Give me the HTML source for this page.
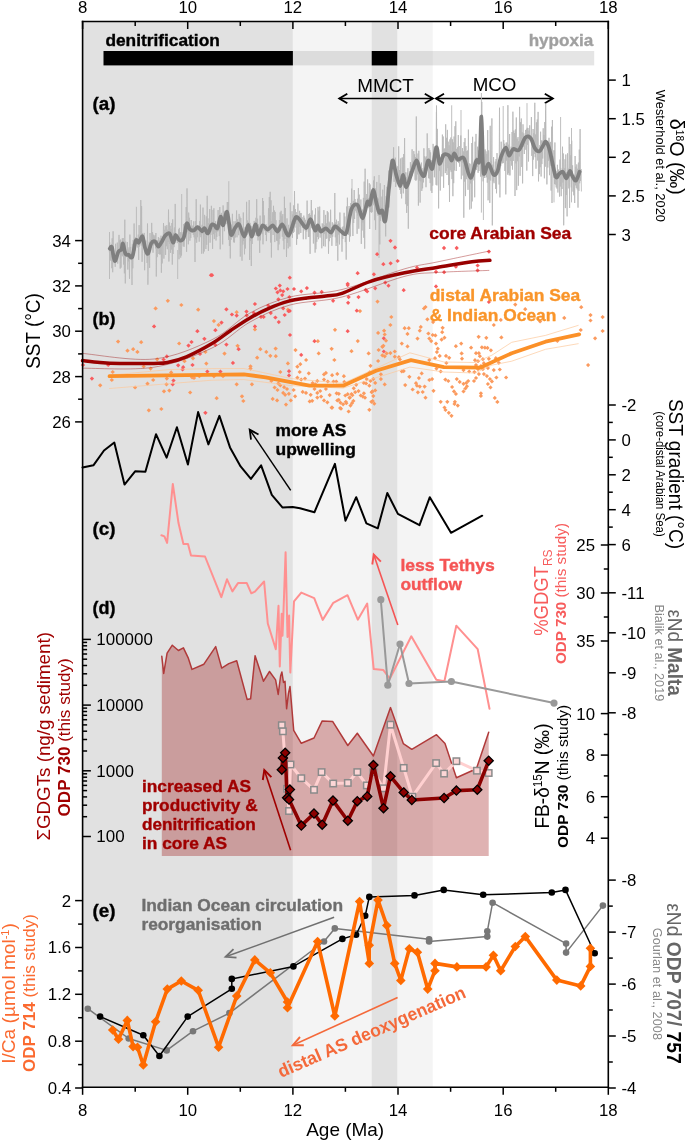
<!DOCTYPE html>
<html><head><meta charset="utf-8"><style>
html,body{margin:0;padding:0;background:#fff;}
svg{display:block;font-family:"Liberation Sans", sans-serif;will-change:transform;}
</style></head><body>
<svg width="685" height="1141" viewBox="0 0 685 1141">
<rect x="0" y="0" width="685" height="1141" fill="#fff"/>
<rect x="82.6" y="21.5" width="210.28" height="1065.8" fill="#e1e1e1"/>
<rect x="292.88" y="21.5" width="139.83619999999996" height="1065.8" fill="#f4f4f4"/>
<rect x="371.7349999999999" y="21.5" width="25.496450000000095" height="1065.8" fill="#e1e1e1"/>
<rect x="292.88" y="51" width="301.32000000000005" height="14.4" fill="#888" fill-opacity="0.22"/>
<rect x="103.5" y="51" width="189.38" height="14.4" fill="#000"/>
<rect x="371.7349999999999" y="51" width="25.496450000000095" height="14.4" fill="#000"/>
<text x="105.4" y="45.9" font-size="16" fill="#000" font-weight="bold" text-anchor="start" textLength="114.4" lengthAdjust="spacingAndGlyphs" stroke="#000" stroke-width="0.35" >denitrification</text>
<text x="528.7" y="46.0" font-size="16" fill="#a0a0a0" font-weight="bold" text-anchor="start" textLength="64.5" lengthAdjust="spacingAndGlyphs" stroke="#a0a0a0" stroke-width="0.35" >hypoxia</text>
<text x="357.2" y="91.5" font-size="19" fill="#000" font-weight="normal" text-anchor="start" textLength="56.7" lengthAdjust="spacingAndGlyphs" >MMCT</text>
<text x="472.7" y="90.8" font-size="19" fill="#000" font-weight="normal" text-anchor="start" textLength="43.7" lengthAdjust="spacingAndGlyphs" >MCO</text>
<line x1="339.3" y1="98.5" x2="432.8" y2="98.5" stroke="#000" stroke-width="1.7"/>
<polyline points="347.3,93.7 339.3,98.5 347.3,103.3" fill="none" stroke="#000" stroke-width="1.9"/>
<polyline points="424.8,93.7 432.8,98.5 424.8,103.3" fill="none" stroke="#000" stroke-width="1.9"/>
<line x1="436.0" y1="98.5" x2="552.8" y2="98.5" stroke="#000" stroke-width="1.7"/>
<polyline points="444.0,93.7 436.0,98.5 444.0,103.3" fill="none" stroke="#000" stroke-width="1.9"/>
<polyline points="544.8,93.7 552.8,98.5 544.8,103.3" fill="none" stroke="#000" stroke-width="1.9"/>
<polyline points="109.3,251.9 109.7,242.3 110.1,260.1 110.6,245.5 111.0,260.9 111.4,244.5 111.8,268.2 112.2,238.3 112.7,272.2 113.1,231.3 113.5,258.9 113.9,256.6 114.3,263.1 114.8,255.9 115.2,266.8 115.6,243.8 116.0,262.0 116.4,255.3 116.9,261.2 117.3,242.6 117.7,263.6 118.1,249.3 118.5,252.2 119.0,234.9 119.4,252.3 119.8,240.4 120.2,268.6 120.6,239.6 121.1,267.6 121.5,244.8 121.9,255.4 122.3,238.3 122.7,256.3 123.2,238.0 123.6,264.5 124.0,244.9 124.4,273.3 124.8,219.7 125.3,283.4 125.7,241.6 126.1,257.2 126.5,251.2 126.9,254.5 127.4,242.0 127.8,269.5 128.2,249.7 128.6,261.4 129.0,247.4 129.5,278.8 129.9,234.6 130.3,256.8 130.7,246.9 131.1,256.3 131.6,255.4 132.0,285.0 132.4,243.9 132.8,268.3 133.2,239.9 133.7,255.3 134.1,223.5 134.5,251.3 134.9,241.2 135.3,250.5 135.8,237.2 136.2,241.0 136.6,241.0 137.0,243.2 137.4,239.5 137.9,247.6 138.3,234.6 138.7,259.9 139.1,225.1 139.5,246.6 140.0,240.1 140.4,242.1 140.8,200.1 141.2,245.5 141.6,206.1 142.1,261.8 142.5,233.1 142.9,243.3 143.3,234.5 143.7,244.0 144.2,232.9 144.6,270.2 145.0,245.4 145.4,249.1 145.8,240.5 146.3,253.2 146.7,250.6 147.1,263.0 147.5,223.5 147.9,284.7 148.4,250.3 148.8,252.4 149.2,241.7 149.6,267.9 150.0,233.0 150.5,247.3 150.9,239.3 151.3,247.7 151.7,222.9 152.1,245.8 152.6,232.0 153.0,252.7 153.4,234.7 153.8,245.3 154.2,236.3 154.7,244.2 155.1,235.0 155.5,248.4 155.9,233.0 156.3,276.5 156.8,241.2 157.2,257.1 157.6,240.2 158.0,248.6 158.4,237.1 158.9,254.0 159.3,240.2 159.7,254.5 160.1,237.9 160.5,254.3 161.0,235.7 161.4,272.7 161.8,238.7 162.2,263.4 162.6,239.7 163.1,242.0 163.5,223.0 163.9,258.6 164.3,229.8 164.7,236.7 165.2,225.8 165.6,254.9 166.0,227.1 166.4,246.2 166.8,225.1 167.3,249.2 167.7,229.7 168.1,242.1 168.5,209.6 168.9,261.5 169.4,222.5 169.8,243.8 170.2,225.8 170.6,252.9 171.0,229.0 171.5,249.5 171.9,223.0 172.3,264.6 172.7,219.4 173.1,254.0 173.6,232.8 174.0,247.1 174.4,227.5 174.8,241.1 175.2,203.9 175.7,237.3 176.1,234.8 176.5,240.8 176.9,236.4 177.3,243.1 177.8,236.9 178.2,240.3 178.6,229.3 179.0,259.2 179.4,227.9 179.9,254.6 180.3,232.2 180.7,257.6 181.1,232.7 181.5,255.5 182.0,232.1 182.4,241.3 182.8,234.5 183.2,246.3 183.6,224.1 184.1,246.8 184.5,223.3 184.9,234.6 185.3,227.2 185.7,235.9 186.2,207.0 186.6,251.8 187.0,188.4 187.4,232.2 187.8,222.8 188.3,244.3 188.7,212.6 189.1,234.1 189.5,217.8 189.9,240.7 190.4,228.2 190.8,237.9 191.2,220.0 191.6,233.0 192.0,226.3 192.5,232.6 192.9,225.5 193.3,235.0 193.7,221.3 194.1,237.3 194.6,228.0 195.0,262.0 195.4,221.2 195.8,239.3 196.2,199.2 196.7,242.7 197.1,225.4 197.5,237.2 197.9,227.1 198.3,230.4 198.8,227.5 199.2,241.7 199.6,221.1 200.0,234.8 200.4,204.6 200.9,237.2 201.3,229.8 201.7,253.7 202.1,224.8 202.5,233.2 203.0,207.6 203.4,253.5 203.8,228.6 204.2,251.5 204.6,214.9 205.1,229.3 205.5,226.5 205.9,249.0 206.3,216.4 206.7,244.8 207.2,195.8 207.6,233.1 208.0,218.4 208.4,250.9 208.8,223.0 209.3,232.2 209.7,209.1 210.1,242.7 210.5,225.0 210.9,234.9 211.4,205.8 211.8,231.4 212.2,221.9 212.6,248.8 213.0,209.9 213.5,234.2 213.9,208.3 214.3,239.1 214.7,224.1 215.1,232.5 215.6,221.2 216.0,240.5 216.4,225.6 216.8,236.9 217.2,224.9 217.7,231.6 218.1,210.0 218.5,230.8 218.9,220.9 219.3,236.1 219.8,207.0 220.2,249.3 220.6,216.4 221.0,220.2 221.4,212.9 221.9,221.2 222.3,221.5 222.7,244.4 223.1,205.4 223.5,227.0 224.0,210.9 224.4,231.2 224.8,213.5 225.2,223.8 225.6,215.1 226.1,224.1 226.5,210.3 226.9,217.0 227.3,202.0 227.7,222.5 228.2,202.0 228.6,239.9 229.0,217.4 229.4,245.9 229.8,222.2 230.3,258.4 230.7,225.0 231.1,239.8 231.5,224.6 231.9,233.8 232.4,213.8 232.8,237.4 233.2,226.1 233.6,242.3 234.0,221.3 234.5,242.5 234.9,227.9 235.3,237.5 235.7,221.3 236.1,227.9 236.6,210.5 237.0,237.3 237.4,219.2 237.8,227.9 238.2,221.4 238.7,235.2 239.1,213.9 239.5,227.5 239.9,216.6 240.3,256.6 240.8,218.0 241.2,232.5 241.6,229.9 242.0,260.7 242.4,229.6 242.9,244.6 243.3,212.5 243.7,241.0 244.1,231.8 244.5,254.3 245.0,227.3 245.4,248.5 245.8,227.9 246.2,234.0 246.6,201.8 247.1,235.1 247.5,220.5 247.9,229.8 248.3,222.0 248.7,233.2 249.2,200.1 249.6,259.9 250.0,222.9 250.4,241.1 250.8,232.0 251.3,266.0 251.7,225.9 252.1,244.0 252.5,229.5 252.9,233.2 253.4,228.1 253.8,233.3 254.2,220.9 254.6,235.5 255.0,225.4 255.5,228.5 255.9,217.8 256.3,235.9 256.7,199.2 257.1,232.3 257.6,218.7 258.0,240.5 258.4,224.3 258.8,236.4 259.2,229.8 259.7,252.8 260.1,215.6 260.5,240.3 260.9,224.5 261.3,228.3 261.8,224.1 262.2,234.2 262.6,198.0 263.0,244.3 263.4,201.0 263.9,229.5 264.3,215.4 264.7,230.7 265.1,225.8 265.5,234.9 266.0,224.1 266.4,241.1 266.8,226.3 267.2,232.3 267.6,228.6 268.1,230.1 268.5,208.2 268.9,232.9 269.3,197.1 269.7,230.1 270.2,191.8 270.6,242.5 271.0,200.3 271.4,257.5 271.8,221.3 272.3,225.9 272.7,212.2 273.1,235.0 273.5,205.8 273.9,229.3 274.4,210.5 274.8,242.1 275.2,211.9 275.6,229.2 276.0,220.2 276.5,240.6 276.9,227.1 277.3,241.0 277.7,230.4 278.1,250.2 278.6,229.8 279.0,244.4 279.4,220.1 279.8,238.7 280.2,212.4 280.7,231.3 281.1,210.8 281.5,228.7 281.9,216.1 282.3,236.8 282.8,214.1 283.2,240.7 283.6,225.9 284.0,249.3 284.4,196.7 284.9,239.0 285.3,208.0 285.7,232.2 286.1,225.2 286.5,257.0 287.0,218.4 287.4,242.8 287.8,231.3 288.2,248.3 288.6,224.8 289.1,238.8 289.5,227.9 289.9,246.6 290.3,202.6 290.7,233.2 291.2,221.4 291.6,231.9 292.0,211.2 292.4,237.8 292.8,214.5 293.3,233.0 293.7,205.4 294.1,231.8 294.5,191.1 294.9,227.7 295.4,209.1 295.8,224.2 296.2,212.1 296.6,244.8 297.0,216.5 297.5,238.9 297.9,203.6 298.3,234.2 298.7,217.5 299.1,234.3 299.6,210.8 300.0,226.8 300.4,213.1 300.8,233.0 301.2,213.1 301.7,224.9 302.1,217.2 302.5,228.0 302.9,223.9 303.3,239.3 303.8,215.6 304.2,228.0 304.6,217.8 305.0,230.4 305.4,219.8 305.9,239.2 306.3,225.8 306.7,231.5 307.1,200.6 307.5,226.2 308.0,221.6 308.4,237.0 308.8,214.0 309.2,236.8 309.6,213.4 310.1,253.8 310.5,215.2 310.9,222.0 311.3,200.0 311.7,228.2 312.2,210.4 312.6,229.2 313.0,223.0 313.4,243.5 313.8,222.9 314.3,231.0 314.7,214.7 315.1,252.6 315.5,208.4 315.9,249.2 316.4,227.6 316.8,241.8 317.2,224.9 317.6,236.9 318.0,206.9 318.5,239.2 318.9,210.7 319.3,232.0 319.7,206.6 320.1,237.6 320.6,226.9 321.0,232.8 321.4,228.0 321.8,248.3 322.2,223.3 322.7,231.7 323.1,224.1 323.5,246.1 323.9,210.1 324.3,233.8 324.8,225.2 325.2,246.5 325.6,214.9 326.0,239.0 326.4,223.4 326.9,238.4 327.3,211.1 327.7,230.3 328.1,212.4 328.5,253.7 329.0,221.6 329.4,241.2 329.8,222.7 330.2,238.0 330.6,209.7 331.1,236.2 331.5,227.3 331.9,245.8 332.3,222.3 332.7,236.7 333.2,228.4 333.6,232.1 334.0,223.6 334.4,230.0 334.8,193.0 335.3,237.3 335.7,222.4 336.1,246.0 336.5,219.7 336.9,242.7 337.4,224.1 337.8,260.7 338.2,221.2 338.6,234.5 339.0,223.1 339.5,244.4 339.9,212.5 340.3,231.9 340.7,227.3 341.1,231.7 341.6,230.2 342.0,251.7 342.4,227.3 342.8,239.0 343.2,226.3 343.7,232.1 344.1,212.8 344.5,233.8 344.9,216.5 345.3,242.1 345.8,231.0 346.2,259.6 346.6,206.5 347.0,230.9 347.4,197.7 347.9,234.0 348.3,216.3 348.7,235.0 349.1,206.0 349.5,241.6 350.0,211.6 350.4,236.4 350.8,203.0 351.2,215.3 351.6,188.6 352.1,210.8 352.5,205.6 352.9,236.0 353.3,200.9 353.7,223.0 354.2,190.0 354.6,219.0 355.0,199.0 355.4,210.7 355.8,202.7 356.3,212.6 356.7,203.2 357.1,233.8 357.5,198.8 357.9,215.5 358.4,188.1 358.8,228.7 359.2,194.6 359.6,213.0 360.0,209.9 360.5,215.5 360.9,199.5 361.3,243.9 361.7,215.0 362.1,230.5 362.6,209.5 363.0,222.5 363.4,197.9 363.8,237.7 364.2,181.6 364.7,248.7 365.1,168.7 365.5,211.3 365.9,197.9 366.3,211.3 366.8,194.0 367.2,207.8 367.6,179.4 368.0,206.5 368.4,198.2 368.9,208.2 369.3,183.2 369.7,229.0 370.1,184.5 370.5,212.0 371.0,198.4 371.4,212.7 371.8,196.0 372.2,212.1 372.6,187.7 373.1,198.7 373.5,180.5 373.9,205.3 374.3,176.3 374.7,220.2 375.2,188.2 375.6,229.8 376.0,193.6 376.4,210.0 376.8,181.9 377.3,211.9 377.7,197.7 378.1,215.7 378.5,198.8 378.9,212.6 379.4,205.6 379.8,244.4 380.2,183.3 380.6,220.8 381.0,207.5 381.5,215.2 381.9,196.6 382.3,216.5 382.7,189.7 383.1,221.5 383.6,213.0 384.0,218.2 384.4,185.0 384.8,219.3 385.2,204.9 385.7,236.4 386.1,196.1 386.5,219.2 386.9,186.8 387.3,207.2 387.8,193.8 388.2,199.8 388.6,170.6 389.0,207.5 389.4,177.9 389.9,189.1 390.3,173.3 390.7,187.5 391.1,159.8 391.5,176.3 392.0,162.2 392.4,168.3 392.8,160.8 393.2,166.9 393.6,147.3 394.1,181.8 394.5,166.1 394.9,175.8 395.3,157.7 395.7,187.0 396.2,173.3 396.6,177.9 397.0,175.6 397.4,182.7 397.8,166.2 398.3,182.5 398.7,146.3 399.1,187.7 399.5,170.0 399.9,189.9 400.4,158.5 400.8,193.8 401.2,178.1 401.6,198.4 402.0,157.7 402.5,182.5 402.9,157.5 403.3,193.4 403.7,154.0 404.1,179.0 404.6,138.1 405.0,184.0 405.4,172.3 405.8,204.2 406.2,177.2 406.7,212.9 407.1,172.4 407.5,205.8 407.9,168.2 408.3,228.7 408.8,178.6 409.2,179.3 409.6,171.2 410.0,179.2 410.4,162.1 410.9,177.0 411.3,164.7 411.7,176.6 412.1,149.3 412.5,175.4 413.0,160.7 413.4,169.0 413.8,151.1 414.2,167.2 414.6,154.3 415.1,179.9 415.5,157.1 415.9,180.8 416.3,116.5 416.7,179.8 417.2,158.3 417.6,174.4 418.0,153.5 418.4,205.6 418.8,150.8 419.3,180.5 419.7,163.9 420.1,202.6 420.5,168.1 420.9,181.4 421.4,162.6 421.8,190.9 422.2,170.4 422.6,188.3 423.0,168.1 423.5,182.4 423.9,148.3 424.3,177.8 424.7,156.2 425.1,175.7 425.6,157.6 426.0,187.2 426.4,156.4 426.8,171.1 427.2,133.4 427.7,163.1 428.1,159.4 428.5,178.1 428.9,148.1 429.3,178.6 429.8,150.2 430.2,183.1 430.6,152.4 431.0,190.7 431.4,160.3 431.9,193.0 432.3,162.7 432.7,185.6 433.1,143.9 433.5,162.8 434.0,147.3 434.4,177.3 434.8,146.5 435.2,158.0 435.6,149.1 436.1,184.9 436.5,105.5 436.9,185.4 437.3,128.9 437.7,161.4 438.2,152.1 438.6,208.4 439.0,158.4 439.4,170.7 439.8,161.3 440.3,190.5 440.7,157.9 441.1,162.5 441.5,154.0 441.9,176.4 442.4,134.6 442.8,161.8 443.2,136.5 443.6,187.8 444.0,148.7 444.5,158.1 444.9,148.4 445.3,173.1 445.7,124.3 446.1,171.1 446.6,137.8 447.0,175.0 447.4,129.9 447.8,168.2 448.2,141.7 448.7,185.1 449.1,145.3 449.5,201.9 449.9,139.4 450.3,170.3 450.8,137.5 451.2,172.1 451.6,151.2 452.0,179.1 452.4,139.3 452.9,196.2 453.3,142.3 453.7,183.2 454.1,136.5 454.5,170.4 455.0,126.2 455.4,160.6 455.8,121.3 456.2,171.0 456.6,148.9 457.1,161.6 457.5,147.3 457.9,162.0 458.3,135.0 458.7,163.1 459.2,146.0 459.6,166.7 460.0,157.2 460.4,161.6 460.8,135.5 461.3,179.2 461.7,156.1 462.1,162.8 462.5,148.1 462.9,175.5 463.4,151.4 463.8,217.7 464.2,142.1 464.6,181.6 465.0,138.1 465.5,196.1 465.9,146.1 466.3,179.2 466.7,151.1 467.1,171.3 467.6,150.5 468.0,189.8 468.4,129.6 468.8,176.3 469.2,163.3 469.7,209.5 470.1,163.8 470.5,183.4 470.9,173.1 471.3,208.6 471.8,143.0 472.2,201.4 472.6,136.8 473.0,180.4 473.4,165.7 473.9,168.7 474.3,161.6 474.7,197.3 475.1,141.7 475.5,169.2 476.0,133.9 476.4,169.9 476.8,157.0 477.2,167.1 477.6,146.7 478.1,172.8 478.5,150.4 478.9,171.0 479.3,158.8 479.7,157.9 480.2,143.9 480.6,176.6 481.0,117.0 481.4,142.5 481.8,101.9 482.3,176.5 482.7,131.6 483.1,181.3 483.5,163.4 483.9,177.8 484.4,166.3 484.8,178.0 485.2,149.5 485.6,172.7 486.0,151.3 486.5,177.3 486.9,153.9 487.3,182.7 487.7,130.1 488.1,200.3 488.6,150.4 489.0,179.3 489.4,163.5 489.8,202.9 490.2,125.8 490.7,180.5 491.1,160.7 491.5,172.4 491.9,118.4 492.3,225.4 492.8,164.6 493.2,181.4 493.6,157.1 494.0,183.2 494.4,169.7 494.9,176.4 495.3,161.6 495.7,189.0 496.1,159.0 496.5,193.3 497.0,153.1 497.4,173.0 497.8,163.9 498.2,169.5 498.6,160.7 499.1,184.5 499.5,107.7 499.9,197.4 500.3,154.1 500.7,166.1 501.2,141.7 501.6,157.3 502.0,154.1 502.4,163.3 502.8,152.5 503.3,163.1 503.7,140.0 504.1,151.1 504.5,143.8 504.9,171.0 505.4,147.8 505.8,194.4 506.2,142.6 506.6,160.6 507.0,142.5 507.5,174.6 507.9,105.2 508.3,173.2 508.7,144.7 509.1,175.2 509.6,134.0 510.0,175.4 510.4,152.7 510.8,161.0 511.2,146.7 511.7,165.6 512.1,132.0 512.5,169.6 512.9,111.7 513.3,160.9 513.8,130.6 514.2,152.0 514.6,133.2 515.0,196.0 515.4,129.4 515.9,163.4 516.3,117.5 516.7,190.1 517.1,138.7 517.5,161.2 518.0,137.1 518.4,185.7 518.8,141.2 519.2,156.5 519.6,106.9 520.1,175.8 520.5,122.2 520.9,148.9 521.3,118.5 521.7,166.9 522.2,132.3 522.6,183.4 523.0,124.3 523.4,146.9 523.8,133.3 524.3,154.0 524.7,137.7 525.1,143.7 525.5,130.0 525.9,149.8 526.4,129.3 526.8,170.6 527.2,127.8 527.6,144.8 528.0,128.0 528.5,161.5 528.9,130.6 529.3,138.6 529.7,125.3 530.1,140.5 530.6,136.8 531.0,140.5 531.4,117.0 531.8,155.9 532.2,140.7 532.7,176.1 533.1,129.0 533.5,159.6 533.9,133.3 534.3,153.9 534.8,102.8 535.2,157.2 535.6,134.5 536.0,168.7 536.4,122.3 536.9,150.9 537.3,119.5 537.7,160.5 538.1,111.9 538.5,181.4 539.0,150.2 539.4,174.1 539.8,145.2 540.2,167.2 540.6,131.7 541.1,176.5 541.5,140.5 541.9,164.1 542.3,140.7 542.7,158.5 543.2,128.3 543.6,148.2 544.0,134.9 544.4,178.3 544.8,122.0 545.3,166.7 545.7,103.5 546.1,144.3 546.5,141.6 546.9,184.4 547.4,144.2 547.8,167.5 548.2,146.5 548.6,160.7 549.0,137.8 549.5,175.2 549.9,142.4 550.3,165.8 550.7,141.9 551.1,190.6 551.6,126.7 552.0,203.0 552.4,120.0 552.8,168.6 553.2,156.0 553.7,177.9 554.1,150.6 554.5,184.0 554.9,142.5 555.3,184.6 555.8,170.9 556.2,187.3 556.6,175.1 557.0,188.6 557.4,164.8 557.9,192.5 558.3,169.5 558.7,174.7 559.1,172.4 559.5,196.6 560.0,159.6 560.4,186.5 560.8,168.3 561.2,196.2 561.6,172.0 562.1,189.0 562.5,146.7 562.9,182.5 563.3,153.5 563.7,225.3 564.2,168.2 564.6,178.6 565.0,159.3 565.4,208.1 565.8,154.5 566.3,194.9 566.7,172.2 567.1,216.4 567.5,153.3 567.9,175.0 568.4,168.7 568.8,188.4 569.2,136.9 569.6,207.9 570.0,144.1 570.5,173.1 570.9,155.3 571.3,187.4 571.7,140.7 572.1,176.2 572.6,165.3 573.0,191.6 573.4,174.8 573.8,195.3 574.2,174.7 574.7,203.0 575.1,156.0 575.5,185.3 575.9,166.7 576.3,187.9 576.8,164.4 577.2,189.4 577.6,168.7 578.0,207.6 578.4,162.6 578.9,190.9 579.3,149.6 579.7,183.3 580.1,129.1 580.5,180.9 581.0,169.0 581.4,191.1" fill="none" stroke="#b8b8b8" stroke-width="0.85" stroke-linejoin="round" stroke-linecap="round" stroke-linejoin="miter" stroke-miterlimit="2"/>
<line x1="109.5" y1="232" x2="109.5" y2="279" stroke="#b8b8b8" stroke-width="0.9"/>
<line x1="177.7" y1="250" x2="177.7" y2="279" stroke="#b8b8b8" stroke-width="0.9"/>
<line x1="181.7" y1="194" x2="181.7" y2="235" stroke="#b8b8b8" stroke-width="0.9"/>
<line x1="228.8" y1="181.2" x2="228.8" y2="215" stroke="#b8b8b8" stroke-width="0.9"/>
<line x1="136.4" y1="206.8" x2="136.4" y2="240" stroke="#b8b8b8" stroke-width="0.9"/>
<line x1="451.7" y1="105.3" x2="451.7" y2="160" stroke="#b8b8b8" stroke-width="0.9"/>
<line x1="461" y1="110" x2="461" y2="158" stroke="#b8b8b8" stroke-width="0.9"/>
<line x1="481.4" y1="93" x2="481.4" y2="212.6" stroke="#b8b8b8" stroke-width="0.9"/>
<line x1="483.4" y1="170" x2="483.4" y2="220" stroke="#b8b8b8" stroke-width="0.9"/>
<line x1="503.2" y1="106" x2="503.2" y2="150" stroke="#b8b8b8" stroke-width="0.9"/>
<line x1="527" y1="103.1" x2="527" y2="140" stroke="#b8b8b8" stroke-width="0.9"/>
<line x1="545.5" y1="110.4" x2="545.5" y2="145" stroke="#b8b8b8" stroke-width="0.9"/>
<line x1="560.6" y1="117" x2="560.6" y2="175" stroke="#b8b8b8" stroke-width="0.9"/>
<line x1="571.5" y1="128" x2="571.5" y2="175" stroke="#b8b8b8" stroke-width="0.9"/>
<line x1="554" y1="150" x2="554" y2="202.4" stroke="#b8b8b8" stroke-width="0.9"/>
<line x1="571.5" y1="175" x2="571.5" y2="202.4" stroke="#b8b8b8" stroke-width="0.9"/>
<line x1="436.4" y1="112" x2="436.4" y2="150" stroke="#b8b8b8" stroke-width="0.9"/>
<line x1="352" y1="179" x2="352" y2="210" stroke="#b8b8b8" stroke-width="0.9"/>
<line x1="379" y1="175" x2="379" y2="258" stroke="#b8b8b8" stroke-width="0.9"/>
<path d="M109.8,248.7C110.2,248.5 111.1,245.2 111.9,247.3C112.7,249.4 113.6,260.3 114.7,261.0C115.8,261.7 117.3,253.6 118.4,251.7C119.5,249.8 120.8,250.7 121.5,249.3C122.2,248.0 122.2,242.8 122.9,243.6C123.6,244.3 124.5,251.9 125.5,253.8C126.5,255.7 127.5,254.3 128.6,254.8C129.7,255.3 131.1,259.3 132.3,256.9C133.5,254.5 134.7,242.9 135.8,240.5C136.9,238.1 137.7,243.3 138.8,242.6C139.9,241.9 141.5,235.6 142.5,236.4C143.5,237.2 144.1,244.8 145.0,247.7C145.9,250.6 147.0,254.5 148.0,253.8C149.0,253.1 149.9,245.7 151.1,243.6C152.3,241.5 154.0,241.0 155.2,241.5C156.4,242.0 157.2,246.4 158.2,246.6C159.2,246.8 160.1,244.5 161.3,242.6C162.5,240.7 164.0,236.9 165.4,235.4C166.8,233.9 168.2,232.2 169.5,233.4C170.8,234.6 172.2,242.3 173.2,242.6C174.2,242.9 174.5,235.3 175.6,235.0C176.7,234.7 178.3,240.1 179.7,240.5C181.1,240.9 182.6,240.2 183.8,237.4C185.0,234.6 185.9,224.8 186.9,223.5C187.9,222.2 188.7,228.2 189.9,229.3C191.1,230.4 192.7,230.7 194.0,230.3C195.3,230.0 196.3,227.0 197.7,227.2C199.1,227.4 201.0,231.1 202.2,231.3C203.3,231.5 203.6,227.8 204.6,228.2C205.6,228.5 206.8,233.9 207.9,233.4C209.0,232.9 210.3,226.6 211.4,225.2C212.5,223.8 213.4,224.7 214.4,225.2C215.4,225.7 216.5,229.6 217.5,228.2C218.5,226.8 219.7,217.1 220.6,216.6C221.5,216.1 222.1,226.0 223.2,225.2C224.3,224.4 225.8,210.4 227.1,211.9C228.4,213.4 229.5,231.7 230.8,234.4C232.1,237.1 233.5,229.9 234.9,228.2C236.3,226.5 237.6,223.0 239.1,224.4C240.6,225.8 242.7,236.5 244.2,236.6C245.7,236.7 247.0,225.0 248.3,225.0C249.6,225.0 250.6,236.7 251.8,236.6C253.0,236.5 254.3,224.7 255.4,224.4C256.5,224.1 257.3,234.4 258.5,234.6C259.7,234.8 261.1,226.2 262.6,225.4C264.1,224.6 266.0,229.5 267.7,229.5C269.4,229.5 271.2,225.1 272.8,225.4C274.4,225.7 275.9,231.7 277.5,231.5C279.1,231.3 280.6,223.7 282.4,224.4C284.2,225.1 286.5,236.3 288.5,235.6C290.5,234.9 292.8,223.4 294.3,220.3C295.8,217.2 295.6,216.2 297.3,217.2C299.0,218.2 302.9,224.7 304.5,226.4C306.1,228.1 305.9,228.6 306.9,227.4C307.9,226.2 309.2,218.8 310.6,219.3C312.0,219.8 313.9,229.5 315.1,230.5C316.3,231.5 316.9,225.2 317.8,225.4C318.8,225.6 319.5,231.0 320.8,231.5C322.1,232.0 324.2,228.3 325.9,228.5C327.6,228.7 329.6,232.9 331.1,232.6C332.6,232.2 333.4,226.6 335.1,226.4C336.8,226.2 339.4,230.5 341.3,231.5C343.2,232.5 344.7,236.3 346.4,232.6C348.1,228.8 349.6,213.6 351.5,209.0C353.4,204.4 355.7,203.5 357.6,205.0C359.5,206.5 361.1,218.7 362.7,218.2C364.3,217.7 366.2,204.2 367.4,201.9C368.6,199.6 369.1,206.4 370.0,204.4C370.9,202.4 372.1,190.6 373.1,190.1C374.1,189.6 375.1,197.7 376.1,201.4C377.1,205.2 378.2,211.1 379.2,212.6C380.2,214.1 381.3,209.2 382.3,210.6C383.3,212.0 384.1,225.2 385.3,220.8C386.5,216.4 388.2,194.1 389.4,184.0C390.6,173.9 391.4,162.0 392.5,160.5C393.6,159.0 394.9,170.5 396.2,174.8C397.5,179.1 399.0,186.1 400.2,186.1C401.4,186.1 402.1,174.6 403.1,174.8C404.1,175.0 404.9,187.6 406.4,187.1C407.9,186.6 410.2,176.1 411.9,171.7C413.6,167.3 415.2,160.7 416.6,160.5C418.0,160.3 418.8,168.1 420.1,170.7C421.4,173.2 422.9,177.5 424.2,175.8C425.5,174.1 426.8,161.7 428.2,160.5C429.6,159.3 430.9,170.9 432.3,168.7C433.7,166.5 435.2,148.0 436.4,147.2C437.6,146.3 438.3,162.3 439.5,163.6C440.7,164.9 442.1,156.4 443.6,155.0C445.1,153.6 447.4,154.5 448.7,155.4C450.0,156.3 450.8,160.8 451.7,160.5C452.6,160.2 453.2,153.6 454.2,153.4C455.2,153.2 456.3,158.7 457.9,159.5C459.5,160.3 461.9,155.4 464.0,158.5C466.1,161.6 468.4,177.6 470.5,177.9C472.6,178.2 474.8,163.5 476.3,160.5C477.8,157.5 478.8,167.3 479.6,160.0C480.5,152.7 480.8,115.8 481.4,116.6C482.0,117.4 482.5,155.5 483.0,165.0C483.5,174.5 483.5,174.0 484.4,173.8C485.3,173.6 487.0,163.4 488.5,163.6C490.0,163.8 492.1,173.6 493.6,174.8C495.1,176.0 496.5,173.6 497.7,170.7C498.9,167.8 499.4,161.2 500.8,157.4C502.2,153.6 504.4,148.0 505.8,147.7C507.2,147.4 507.9,155.5 509.1,155.7C510.3,155.9 511.5,150.1 513.1,149.1C514.8,148.1 516.9,151.8 519.0,149.9C521.1,148.0 523.5,139.4 525.5,137.4C527.5,135.4 529.1,136.4 530.7,138.2C532.3,140.0 533.5,146.2 535.0,148.4C536.5,150.6 538.0,151.8 539.4,151.3C540.8,150.8 542.0,147.1 543.1,145.5C544.2,143.9 544.9,141.1 546.0,141.8C547.1,142.5 548.0,144.2 549.6,149.9C551.2,155.6 553.9,172.1 555.5,176.1C557.1,180.1 557.9,174.6 559.1,173.9C560.3,173.2 561.6,171.1 562.8,171.8C564.0,172.5 565.2,178.4 566.4,178.3C567.6,178.2 568.8,171.4 569.8,171.0C570.8,170.6 571.3,174.5 572.3,176.1C573.3,177.7 574.7,181.2 575.9,180.5C577.1,179.8 579.0,173.2 579.6,171.8" fill="none" stroke="#7f7f7f" stroke-width="3.8" stroke-linejoin="round" stroke-linecap="round" />
<path d="M167.8,298.7L170.0,300.8L167.8,302.9L165.7,300.8Z" fill="#fb9a5e" stroke="none" stroke-width="0"/>
<path d="M155.6,306.2L157.8,308.4L155.6,310.5L153.4,308.4Z" fill="#fb9a5e" stroke="none" stroke-width="0"/>
<path d="M181.3,302.9L183.5,305.0L181.3,307.1L179.2,305.0Z" fill="#fb9a5e" stroke="none" stroke-width="0"/>
<path d="M198.2,307.6L200.3,309.7L198.2,311.8L196.0,309.7Z" fill="#fb9a5e" stroke="none" stroke-width="0"/>
<path d="M118.1,339.5L120.2,341.6L118.1,343.8L115.9,341.6Z" fill="#fb9a5e" stroke="none" stroke-width="0"/>
<path d="M141.2,340.1L143.3,342.2L141.2,344.3L139.0,342.2Z" fill="#fb9a5e" stroke="none" stroke-width="0"/>
<path d="M179.2,341.4L181.3,343.5L179.2,345.6L177.0,343.5Z" fill="#fb9a5e" stroke="none" stroke-width="0"/>
<path d="M127.5,348.6L129.7,350.7L127.5,352.8L125.3,350.7Z" fill="#fb9a5e" stroke="none" stroke-width="0"/>
<path d="M133.2,347.1L135.3,349.2L133.2,351.3L131.0,349.2Z" fill="#fb9a5e" stroke="none" stroke-width="0"/>
<path d="M137.4,349.8L139.6,351.9L137.4,354.0L135.2,351.9Z" fill="#fb9a5e" stroke="none" stroke-width="0"/>
<path d="M157.2,357.2L159.3,359.3L157.2,361.4L155.0,359.3Z" fill="#fb9a5e" stroke="none" stroke-width="0"/>
<path d="M205.4,349.9L207.6,352.0L205.4,354.1L203.2,352.0Z" fill="#fb9a5e" stroke="none" stroke-width="0"/>
<path d="M193.0,356.2L195.2,358.3L193.0,360.4L190.8,358.3Z" fill="#fb9a5e" stroke="none" stroke-width="0"/>
<path d="M184.5,359.1L186.7,361.2L184.5,363.3L182.3,361.2Z" fill="#fb9a5e" stroke="none" stroke-width="0"/>
<path d="M206.3,361.5L208.5,363.6L206.3,365.8L204.2,363.6Z" fill="#fb9a5e" stroke="none" stroke-width="0"/>
<path d="M143.7,364.4L145.8,366.5L143.7,368.6L141.5,366.5Z" fill="#fb9a5e" stroke="none" stroke-width="0"/>
<path d="M150.7,366.5L152.8,368.6L150.7,370.8L148.5,368.6Z" fill="#fb9a5e" stroke="none" stroke-width="0"/>
<path d="M112.7,369.9L114.9,372.0L112.7,374.1L110.5,372.0Z" fill="#fb9a5e" stroke="none" stroke-width="0"/>
<path d="M171.2,370.2L173.3,372.4L171.2,374.5L169.0,372.4Z" fill="#fb9a5e" stroke="none" stroke-width="0"/>
<path d="M111.8,377.9L114.0,380.0L111.8,382.1L109.6,380.0Z" fill="#fb9a5e" stroke="none" stroke-width="0"/>
<path d="M153.2,377.9L155.3,380.0L153.2,382.1L151.0,380.0Z" fill="#fb9a5e" stroke="none" stroke-width="0"/>
<path d="M166.8,376.5L169.0,378.6L166.8,380.8L164.7,378.6Z" fill="#fb9a5e" stroke="none" stroke-width="0"/>
<path d="M166.5,382.2L168.7,384.3L166.5,386.4L164.3,384.3Z" fill="#fb9a5e" stroke="none" stroke-width="0"/>
<path d="M147.5,381.6L149.7,383.7L147.5,385.8L145.3,383.7Z" fill="#fb9a5e" stroke="none" stroke-width="0"/>
<path d="M192.1,375.2L194.2,377.3L192.1,379.4L189.9,377.3Z" fill="#fb9a5e" stroke="none" stroke-width="0"/>
<path d="M194.0,375.9L196.2,378.0L194.0,380.1L191.8,378.0Z" fill="#fb9a5e" stroke="none" stroke-width="0"/>
<path d="M199.3,374.1L201.5,376.2L199.3,378.3L197.2,376.2Z" fill="#fb9a5e" stroke="none" stroke-width="0"/>
<path d="M100.2,383.2L102.4,385.3L100.2,387.4L98.0,385.3Z" fill="#fb9a5e" stroke="none" stroke-width="0"/>
<path d="M135.1,385.4L137.2,387.5L135.1,389.6L132.9,387.5Z" fill="#fb9a5e" stroke="none" stroke-width="0"/>
<path d="M164.0,389.2L166.2,391.3L164.0,393.4L161.8,391.3Z" fill="#fb9a5e" stroke="none" stroke-width="0"/>
<path d="M169.3,388.5L171.5,390.6L169.3,392.8L167.2,390.6Z" fill="#fb9a5e" stroke="none" stroke-width="0"/>
<path d="M190.2,390.4L192.3,392.5L190.2,394.6L188.0,392.5Z" fill="#fb9a5e" stroke="none" stroke-width="0"/>
<path d="M148.8,408.2L151.0,410.3L148.8,412.4L146.7,410.3Z" fill="#fb9a5e" stroke="none" stroke-width="0"/>
<path d="M161.3,406.9L163.5,409.0L161.3,411.1L159.2,409.0Z" fill="#fb9a5e" stroke="none" stroke-width="0"/>
<path d="M213.9,319.0L216.1,321.1L213.9,323.2L211.8,321.1Z" fill="#fb9a5e" stroke="none" stroke-width="0"/>
<path d="M218.6,322.8L220.8,324.9L218.6,327.0L216.4,324.9Z" fill="#fb9a5e" stroke="none" stroke-width="0"/>
<path d="M236.7,310.1L238.8,312.2L236.7,314.3L234.5,312.2Z" fill="#fb9a5e" stroke="none" stroke-width="0"/>
<path d="M254.9,327.4L257.1,329.5L254.9,331.6L252.8,329.5Z" fill="#fb9a5e" stroke="none" stroke-width="0"/>
<path d="M287.9,307.6L290.0,309.7L287.9,311.8L285.8,309.7Z" fill="#fb9a5e" stroke="none" stroke-width="0"/>
<path d="M317.9,339.1L320.0,341.2L317.9,343.3L315.8,341.2Z" fill="#fb9a5e" stroke="none" stroke-width="0"/>
<path d="M335.0,327.7L337.1,329.8L335.0,331.9L332.9,329.8Z" fill="#fb9a5e" stroke="none" stroke-width="0"/>
<path d="M237.6,343.7L239.8,345.8L237.6,347.9L235.4,345.8Z" fill="#fb9a5e" stroke="none" stroke-width="0"/>
<path d="M224.5,351.5L226.7,353.6L224.5,355.8L222.3,353.6Z" fill="#fb9a5e" stroke="none" stroke-width="0"/>
<path d="M260.4,347.1L262.5,349.2L260.4,351.3L258.2,349.2Z" fill="#fb9a5e" stroke="none" stroke-width="0"/>
<path d="M275.6,346.5L277.8,348.6L275.6,350.8L273.5,348.6Z" fill="#fb9a5e" stroke="none" stroke-width="0"/>
<path d="M266.3,349.8L268.4,351.9L266.3,354.0L264.2,351.9Z" fill="#fb9a5e" stroke="none" stroke-width="0"/>
<path d="M270.3,353.7L272.4,355.8L270.3,357.9L268.2,355.8Z" fill="#fb9a5e" stroke="none" stroke-width="0"/>
<path d="M275.8,354.1L277.9,356.2L275.8,358.3L273.7,356.2Z" fill="#fb9a5e" stroke="none" stroke-width="0"/>
<path d="M257.2,355.6L259.3,357.7L257.2,359.8L255.0,357.7Z" fill="#fb9a5e" stroke="none" stroke-width="0"/>
<path d="M295.5,348.0L297.6,350.1L295.5,352.2L293.4,350.1Z" fill="#fb9a5e" stroke="none" stroke-width="0"/>
<path d="M318.7,351.2L320.8,353.4L318.7,355.5L316.6,353.4Z" fill="#fb9a5e" stroke="none" stroke-width="0"/>
<path d="M331.6,346.7L333.8,348.8L331.6,350.9L329.5,348.8Z" fill="#fb9a5e" stroke="none" stroke-width="0"/>
<path d="M334.4,357.9L336.5,360.0L334.4,362.1L332.2,360.0Z" fill="#fb9a5e" stroke="none" stroke-width="0"/>
<path d="M306.1,357.9L308.2,360.0L306.1,362.1L304.0,360.0Z" fill="#fb9a5e" stroke="none" stroke-width="0"/>
<path d="M287.9,361.2L290.0,363.4L287.9,365.5L285.8,363.4Z" fill="#fb9a5e" stroke="none" stroke-width="0"/>
<path d="M300.3,362.1L302.4,364.2L300.3,366.3L298.2,364.2Z" fill="#fb9a5e" stroke="none" stroke-width="0"/>
<path d="M297.4,364.6L299.5,366.7L297.4,368.8L295.2,366.7Z" fill="#fb9a5e" stroke="none" stroke-width="0"/>
<path d="M250.5,364.2L252.7,366.3L250.5,368.4L248.3,366.3Z" fill="#fb9a5e" stroke="none" stroke-width="0"/>
<path d="M250.5,366.5L252.7,368.6L250.5,370.8L248.3,368.6Z" fill="#fb9a5e" stroke="none" stroke-width="0"/>
<path d="M280.3,369.9L282.4,372.0L280.3,374.1L278.2,372.0Z" fill="#fb9a5e" stroke="none" stroke-width="0"/>
<path d="M299.7,369.9L301.8,372.0L299.7,374.1L297.6,372.0Z" fill="#fb9a5e" stroke="none" stroke-width="0"/>
<path d="M308.8,371.2L310.9,373.3L308.8,375.4L306.7,373.3Z" fill="#fb9a5e" stroke="none" stroke-width="0"/>
<path d="M324.0,372.2L326.1,374.4L324.0,376.5L321.9,374.4Z" fill="#fb9a5e" stroke="none" stroke-width="0"/>
<path d="M332.1,373.1L334.2,375.2L332.1,377.3L330.0,375.2Z" fill="#fb9a5e" stroke="none" stroke-width="0"/>
<path d="M213.9,374.2L216.1,376.3L213.9,378.4L211.8,376.3Z" fill="#fb9a5e" stroke="none" stroke-width="0"/>
<path d="M223.0,374.1L225.2,376.2L223.0,378.3L220.8,376.2Z" fill="#fb9a5e" stroke="none" stroke-width="0"/>
<path d="M297.4,375.6L299.5,377.7L297.4,379.8L295.2,377.7Z" fill="#fb9a5e" stroke="none" stroke-width="0"/>
<path d="M301.2,377.5L303.3,379.6L301.2,381.8L299.1,379.6Z" fill="#fb9a5e" stroke="none" stroke-width="0"/>
<path d="M305.0,376.5L307.1,378.6L305.0,380.8L302.9,378.6Z" fill="#fb9a5e" stroke="none" stroke-width="0"/>
<path d="M271.4,378.8L273.5,380.9L271.4,383.0L269.2,380.9Z" fill="#fb9a5e" stroke="none" stroke-width="0"/>
<path d="M236.7,382.2L238.8,384.3L236.7,386.4L234.5,384.3Z" fill="#fb9a5e" stroke="none" stroke-width="0"/>
<path d="M251.9,382.2L254.1,384.3L251.9,386.4L249.8,384.3Z" fill="#fb9a5e" stroke="none" stroke-width="0"/>
<path d="M278.4,381.2L280.5,383.4L278.4,385.5L276.2,383.4Z" fill="#fb9a5e" stroke="none" stroke-width="0"/>
<path d="M274.6,385.4L276.8,387.5L274.6,389.6L272.5,387.5Z" fill="#fb9a5e" stroke="none" stroke-width="0"/>
<path d="M277.5,387.9L279.6,390.0L277.5,392.1L275.4,390.0Z" fill="#fb9a5e" stroke="none" stroke-width="0"/>
<path d="M280.3,383.2L282.4,385.3L280.3,387.4L278.2,385.3Z" fill="#fb9a5e" stroke="none" stroke-width="0"/>
<path d="M284.1,385.1L286.2,387.2L284.1,389.3L282.0,387.2Z" fill="#fb9a5e" stroke="none" stroke-width="0"/>
<path d="M287.0,386.9L289.1,389.0L287.0,391.1L284.9,389.0Z" fill="#fb9a5e" stroke="none" stroke-width="0"/>
<path d="M283.2,390.8L285.3,392.9L283.2,395.0L281.1,392.9Z" fill="#fb9a5e" stroke="none" stroke-width="0"/>
<path d="M285.1,392.7L287.2,394.8L285.1,396.9L283.0,394.8Z" fill="#fb9a5e" stroke="none" stroke-width="0"/>
<path d="M288.9,391.7L291.0,393.8L288.9,395.9L286.8,393.8Z" fill="#fb9a5e" stroke="none" stroke-width="0"/>
<path d="M293.6,387.9L295.8,390.0L293.6,392.1L291.5,390.0Z" fill="#fb9a5e" stroke="none" stroke-width="0"/>
<path d="M295.1,394.2L297.2,396.3L295.1,398.4L293.0,396.3Z" fill="#fb9a5e" stroke="none" stroke-width="0"/>
<path d="M290.8,398.2L292.9,400.4L290.8,402.5L288.7,400.4Z" fill="#fb9a5e" stroke="none" stroke-width="0"/>
<path d="M286.0,402.5L288.1,404.6L286.0,406.8L283.9,404.6Z" fill="#fb9a5e" stroke="none" stroke-width="0"/>
<path d="M302.7,389.8L304.8,391.9L302.7,394.0L300.6,391.9Z" fill="#fb9a5e" stroke="none" stroke-width="0"/>
<path d="M306.0,390.8L308.1,392.9L306.0,395.0L303.9,392.9Z" fill="#fb9a5e" stroke="none" stroke-width="0"/>
<path d="M310.7,392.7L312.8,394.8L310.7,396.9L308.6,394.8Z" fill="#fb9a5e" stroke="none" stroke-width="0"/>
<path d="M314.5,386.9L316.6,389.0L314.5,391.1L312.4,389.0Z" fill="#fb9a5e" stroke="none" stroke-width="0"/>
<path d="M317.3,390.8L319.4,392.9L317.3,395.0L315.2,392.9Z" fill="#fb9a5e" stroke="none" stroke-width="0"/>
<path d="M320.2,388.9L322.3,391.0L320.2,393.1L318.1,391.0Z" fill="#fb9a5e" stroke="none" stroke-width="0"/>
<path d="M317.3,395.5L319.4,397.6L317.3,399.8L315.2,397.6Z" fill="#fb9a5e" stroke="none" stroke-width="0"/>
<path d="M321.1,394.5L323.2,396.6L321.1,398.8L319.0,396.6Z" fill="#fb9a5e" stroke="none" stroke-width="0"/>
<path d="M324.0,398.2L326.1,400.4L324.0,402.5L321.9,400.4Z" fill="#fb9a5e" stroke="none" stroke-width="0"/>
<path d="M325.9,386.9L328.0,389.0L325.9,391.1L323.8,389.0Z" fill="#fb9a5e" stroke="none" stroke-width="0"/>
<path d="M329.7,393.0L331.8,395.1L329.7,397.2L327.6,395.1Z" fill="#fb9a5e" stroke="none" stroke-width="0"/>
<path d="M327.4,400.2L329.5,402.3L327.4,404.4L325.2,402.3Z" fill="#fb9a5e" stroke="none" stroke-width="0"/>
<path d="M309.7,399.2L311.8,401.4L309.7,403.5L307.6,401.4Z" fill="#fb9a5e" stroke="none" stroke-width="0"/>
<path d="M312.2,398.7L314.3,400.8L312.2,402.9L310.1,400.8Z" fill="#fb9a5e" stroke="none" stroke-width="0"/>
<path d="M337.3,398.2L339.4,400.4L337.3,402.5L335.2,400.4Z" fill="#fb9a5e" stroke="none" stroke-width="0"/>
<path d="M338.8,391.7L340.9,393.8L338.8,395.9L336.7,393.8Z" fill="#fb9a5e" stroke="none" stroke-width="0"/>
<path d="M331.6,405.6L333.8,407.7L331.6,409.8L329.5,407.7Z" fill="#fb9a5e" stroke="none" stroke-width="0"/>
<path d="M340.1,405.9L342.2,408.0L340.1,410.1L338.0,408.0Z" fill="#fb9a5e" stroke="none" stroke-width="0"/>
<path d="M216.7,396.1L218.8,398.2L216.7,400.3L214.5,398.2Z" fill="#fb9a5e" stroke="none" stroke-width="0"/>
<path d="M242.0,394.2L244.2,396.3L242.0,398.4L239.8,396.3Z" fill="#fb9a5e" stroke="none" stroke-width="0"/>
<path d="M243.3,398.9L245.5,401.0L243.3,403.1L241.2,401.0Z" fill="#fb9a5e" stroke="none" stroke-width="0"/>
<path d="M272.7,396.8L274.8,398.9L272.7,401.0L270.6,398.9Z" fill="#fb9a5e" stroke="none" stroke-width="0"/>
<path d="M277.1,398.2L279.2,400.4L277.1,402.5L275.0,400.4Z" fill="#fb9a5e" stroke="none" stroke-width="0"/>
<path d="M312.6,380.9L314.8,383.0L312.6,385.1L310.5,383.0Z" fill="#fb9a5e" stroke="none" stroke-width="0"/>
<path d="M315.4,382.2L317.5,384.3L315.4,386.4L313.2,384.3Z" fill="#fb9a5e" stroke="none" stroke-width="0"/>
<path d="M317.3,378.8L319.4,380.9L317.3,383.0L315.2,380.9Z" fill="#fb9a5e" stroke="none" stroke-width="0"/>
<path d="M324.0,377.5L326.1,379.6L324.0,381.8L321.9,379.6Z" fill="#fb9a5e" stroke="none" stroke-width="0"/>
<path d="M327.8,379.4L329.9,381.5L327.8,383.6L325.7,381.5Z" fill="#fb9a5e" stroke="none" stroke-width="0"/>
<path d="M333.5,379.4L335.6,381.5L333.5,383.6L331.4,381.5Z" fill="#fb9a5e" stroke="none" stroke-width="0"/>
<path d="M336.3,379.4L338.4,381.5L336.3,383.6L334.2,381.5Z" fill="#fb9a5e" stroke="none" stroke-width="0"/>
<path d="M325.9,370.8L328.0,372.9L325.9,375.0L323.8,372.9Z" fill="#fb9a5e" stroke="none" stroke-width="0"/>
<path d="M337.3,371.8L339.4,373.9L337.3,376.0L335.2,373.9Z" fill="#fb9a5e" stroke="none" stroke-width="0"/>
<path d="M377.5,299.5L379.6,301.6L377.5,303.8L375.4,301.6Z" fill="#fb9a5e" stroke="none" stroke-width="0"/>
<path d="M360.0,309.0L362.1,311.1L360.0,313.2L357.9,311.1Z" fill="#fb9a5e" stroke="none" stroke-width="0"/>
<path d="M391.3,314.9L393.4,317.0L391.3,319.1L389.2,317.0Z" fill="#fb9a5e" stroke="none" stroke-width="0"/>
<path d="M390.4,322.9L392.5,325.0L390.4,327.1L388.2,325.0Z" fill="#fb9a5e" stroke="none" stroke-width="0"/>
<path d="M425.5,304.9L427.6,307.0L425.5,309.1L423.4,307.0Z" fill="#fb9a5e" stroke="none" stroke-width="0"/>
<path d="M424.0,306.4L426.1,308.5L424.0,310.6L421.9,308.5Z" fill="#fb9a5e" stroke="none" stroke-width="0"/>
<path d="M427.4,317.2L429.5,319.3L427.4,321.4L425.2,319.3Z" fill="#fb9a5e" stroke="none" stroke-width="0"/>
<path d="M433.1,320.0L435.2,322.1L433.1,324.2L431.0,322.1Z" fill="#fb9a5e" stroke="none" stroke-width="0"/>
<path d="M384.1,328.6L386.2,330.7L384.1,332.8L382.0,330.7Z" fill="#fb9a5e" stroke="none" stroke-width="0"/>
<path d="M384.7,332.4L386.8,334.5L384.7,336.6L382.6,334.5Z" fill="#fb9a5e" stroke="none" stroke-width="0"/>
<path d="M378.1,330.8L380.2,332.9L378.1,335.0L376.0,332.9Z" fill="#fb9a5e" stroke="none" stroke-width="0"/>
<path d="M386.0,338.6L388.1,340.7L386.0,342.8L383.9,340.7Z" fill="#fb9a5e" stroke="none" stroke-width="0"/>
<path d="M404.6,326.1L406.8,328.2L404.6,330.3L402.5,328.2Z" fill="#fb9a5e" stroke="none" stroke-width="0"/>
<path d="M408.8,326.1L410.9,328.2L408.8,330.3L406.7,328.2Z" fill="#fb9a5e" stroke="none" stroke-width="0"/>
<path d="M407.5,331.8L409.6,333.9L407.5,336.0L405.4,333.9Z" fill="#fb9a5e" stroke="none" stroke-width="0"/>
<path d="M420.8,324.8L422.9,326.9L420.8,329.0L418.7,326.9Z" fill="#fb9a5e" stroke="none" stroke-width="0"/>
<path d="M419.8,328.6L421.9,330.7L419.8,332.8L417.7,330.7Z" fill="#fb9a5e" stroke="none" stroke-width="0"/>
<path d="M417.5,336.5L419.6,338.6L417.5,340.8L415.4,338.6Z" fill="#fb9a5e" stroke="none" stroke-width="0"/>
<path d="M428.4,331.4L430.5,333.5L428.4,335.6L426.2,333.5Z" fill="#fb9a5e" stroke="none" stroke-width="0"/>
<path d="M432.7,332.9L434.8,335.0L432.7,337.1L430.6,335.0Z" fill="#fb9a5e" stroke="none" stroke-width="0"/>
<path d="M435.4,333.2L437.5,335.4L435.4,337.5L433.2,335.4Z" fill="#fb9a5e" stroke="none" stroke-width="0"/>
<path d="M429.3,336.5L431.4,338.6L429.3,340.8L427.2,338.6Z" fill="#fb9a5e" stroke="none" stroke-width="0"/>
<path d="M431.2,339.0L433.3,341.1L431.2,343.2L429.1,341.1Z" fill="#fb9a5e" stroke="none" stroke-width="0"/>
<path d="M442.6,325.7L444.8,327.8L442.6,329.9L440.5,327.8Z" fill="#fb9a5e" stroke="none" stroke-width="0"/>
<path d="M442.2,330.1L444.3,332.2L442.2,334.3L440.1,332.2Z" fill="#fb9a5e" stroke="none" stroke-width="0"/>
<path d="M444.5,335.6L446.6,337.7L444.5,339.8L442.4,337.7Z" fill="#fb9a5e" stroke="none" stroke-width="0"/>
<path d="M441.6,337.5L443.8,339.6L441.6,341.8L439.5,339.6Z" fill="#fb9a5e" stroke="none" stroke-width="0"/>
<path d="M436.0,341.5L438.1,343.6L436.0,345.8L433.9,343.6Z" fill="#fb9a5e" stroke="none" stroke-width="0"/>
<path d="M455.9,344.1L458.0,346.2L455.9,348.3L453.8,346.2Z" fill="#fb9a5e" stroke="none" stroke-width="0"/>
<path d="M461.2,341.5L463.3,343.6L461.2,345.8L459.1,343.6Z" fill="#fb9a5e" stroke="none" stroke-width="0"/>
<path d="M471.1,345.6L473.2,347.7L471.1,349.8L469.0,347.7Z" fill="#fb9a5e" stroke="none" stroke-width="0"/>
<path d="M401.8,341.5L403.9,343.6L401.8,345.8L399.7,343.6Z" fill="#fb9a5e" stroke="none" stroke-width="0"/>
<path d="M407.5,344.2L409.6,346.4L407.5,348.5L405.4,346.4Z" fill="#fb9a5e" stroke="none" stroke-width="0"/>
<path d="M357.8,339.0L359.9,341.1L357.8,343.2L355.7,341.1Z" fill="#fb9a5e" stroke="none" stroke-width="0"/>
<path d="M351.5,349.1L353.6,351.2L351.5,353.3L349.4,351.2Z" fill="#fb9a5e" stroke="none" stroke-width="0"/>
<path d="M368.6,351.2L370.8,353.4L368.6,355.5L366.5,353.4Z" fill="#fb9a5e" stroke="none" stroke-width="0"/>
<path d="M378.6,347.9L380.8,350.0L378.6,352.1L376.5,350.0Z" fill="#fb9a5e" stroke="none" stroke-width="0"/>
<path d="M382.4,344.7L384.5,346.8L382.4,348.9L380.2,346.8Z" fill="#fb9a5e" stroke="none" stroke-width="0"/>
<path d="M383.4,343.7L385.5,345.8L383.4,347.9L381.2,345.8Z" fill="#fb9a5e" stroke="none" stroke-width="0"/>
<path d="M382.4,353.2L384.5,355.3L382.4,357.4L380.2,355.3Z" fill="#fb9a5e" stroke="none" stroke-width="0"/>
<path d="M384.7,354.2L386.8,356.3L384.7,358.4L382.6,356.3Z" fill="#fb9a5e" stroke="none" stroke-width="0"/>
<path d="M386.6,351.2L388.8,353.4L386.6,355.5L384.5,353.4Z" fill="#fb9a5e" stroke="none" stroke-width="0"/>
<path d="M390.4,351.0L392.5,353.1L390.4,355.2L388.2,353.1Z" fill="#fb9a5e" stroke="none" stroke-width="0"/>
<path d="M394.8,349.4L396.9,351.5L394.8,353.6L392.7,351.5Z" fill="#fb9a5e" stroke="none" stroke-width="0"/>
<path d="M394.8,354.6L396.9,356.7L394.8,358.8L392.7,356.7Z" fill="#fb9a5e" stroke="none" stroke-width="0"/>
<path d="M398.9,355.1L401.0,357.2L398.9,359.3L396.8,357.2Z" fill="#fb9a5e" stroke="none" stroke-width="0"/>
<path d="M399.9,357.4L402.0,359.5L399.9,361.6L397.8,359.5Z" fill="#fb9a5e" stroke="none" stroke-width="0"/>
<path d="M378.1,358.9L380.2,361.0L378.1,363.1L376.0,361.0Z" fill="#fb9a5e" stroke="none" stroke-width="0"/>
<path d="M370.5,363.7L372.6,365.8L370.5,367.9L368.4,365.8Z" fill="#fb9a5e" stroke="none" stroke-width="0"/>
<path d="M437.8,346.6L439.9,348.7L437.8,350.8L435.7,348.7Z" fill="#fb9a5e" stroke="none" stroke-width="0"/>
<path d="M436.9,350.0L439.0,352.1L436.9,354.2L434.8,352.1Z" fill="#fb9a5e" stroke="none" stroke-width="0"/>
<path d="M439.7,353.8L441.8,355.9L439.7,358.0L437.6,355.9Z" fill="#fb9a5e" stroke="none" stroke-width="0"/>
<path d="M435.0,356.1L437.1,358.2L435.0,360.3L432.9,358.2Z" fill="#fb9a5e" stroke="none" stroke-width="0"/>
<path d="M429.3,358.0L431.4,360.1L429.3,362.2L427.2,360.1Z" fill="#fb9a5e" stroke="none" stroke-width="0"/>
<path d="M436.5,366.5L438.6,368.6L436.5,370.8L434.4,368.6Z" fill="#fb9a5e" stroke="none" stroke-width="0"/>
<path d="M440.7,369.4L442.8,371.5L440.7,373.6L438.6,371.5Z" fill="#fb9a5e" stroke="none" stroke-width="0"/>
<path d="M446.0,353.8L448.1,355.9L446.0,358.0L443.9,355.9Z" fill="#fb9a5e" stroke="none" stroke-width="0"/>
<path d="M449.2,355.7L451.3,357.8L449.2,359.9L447.1,357.8Z" fill="#fb9a5e" stroke="none" stroke-width="0"/>
<path d="M446.4,360.9L448.5,363.0L446.4,365.1L444.2,363.0Z" fill="#fb9a5e" stroke="none" stroke-width="0"/>
<path d="M461.6,351.2L463.8,353.4L461.6,355.5L459.5,353.4Z" fill="#fb9a5e" stroke="none" stroke-width="0"/>
<path d="M462.0,356.6L464.1,358.7L462.0,360.8L459.9,358.7Z" fill="#fb9a5e" stroke="none" stroke-width="0"/>
<path d="M463.5,368.0L465.6,370.1L463.5,372.2L461.4,370.1Z" fill="#fb9a5e" stroke="none" stroke-width="0"/>
<path d="M469.2,369.4L471.3,371.5L469.2,373.6L467.1,371.5Z" fill="#fb9a5e" stroke="none" stroke-width="0"/>
<path d="M401.8,369.4L403.9,371.5L401.8,373.6L399.7,371.5Z" fill="#fb9a5e" stroke="none" stroke-width="0"/>
<path d="M403.7,369.0L405.8,371.1L403.7,373.2L401.6,371.1Z" fill="#fb9a5e" stroke="none" stroke-width="0"/>
<path d="M369.5,370.2L371.6,372.4L369.5,374.5L367.4,372.4Z" fill="#fb9a5e" stroke="none" stroke-width="0"/>
<path d="M380.9,372.2L383.0,374.3L380.9,376.4L378.8,374.3Z" fill="#fb9a5e" stroke="none" stroke-width="0"/>
<path d="M421.7,371.2L423.8,373.4L421.7,375.5L419.6,373.4Z" fill="#fb9a5e" stroke="none" stroke-width="0"/>
<path d="M409.4,374.7L411.5,376.8L409.4,378.9L407.2,376.8Z" fill="#fb9a5e" stroke="none" stroke-width="0"/>
<path d="M418.9,376.0L421.0,378.1L418.9,380.2L416.8,378.1Z" fill="#fb9a5e" stroke="none" stroke-width="0"/>
<path d="M429.3,377.9L431.4,380.0L429.3,382.1L427.2,380.0Z" fill="#fb9a5e" stroke="none" stroke-width="0"/>
<path d="M432.1,377.0L434.2,379.1L432.1,381.2L430.0,379.1Z" fill="#fb9a5e" stroke="none" stroke-width="0"/>
<path d="M445.4,377.5L447.5,379.6L445.4,381.8L443.2,379.6Z" fill="#fb9a5e" stroke="none" stroke-width="0"/>
<path d="M448.3,378.9L450.4,381.0L448.3,383.1L446.2,381.0Z" fill="#fb9a5e" stroke="none" stroke-width="0"/>
<path d="M456.8,377.0L458.9,379.1L456.8,381.2L454.7,379.1Z" fill="#fb9a5e" stroke="none" stroke-width="0"/>
<path d="M459.7,379.8L461.8,381.9L459.7,384.0L457.6,381.9Z" fill="#fb9a5e" stroke="none" stroke-width="0"/>
<path d="M463.5,381.7L465.6,383.8L463.5,385.9L461.4,383.8Z" fill="#fb9a5e" stroke="none" stroke-width="0"/>
<path d="M466.3,380.8L468.4,382.9L466.3,385.0L464.2,382.9Z" fill="#fb9a5e" stroke="none" stroke-width="0"/>
<path d="M468.2,378.9L470.3,381.0L468.2,383.1L466.1,381.0Z" fill="#fb9a5e" stroke="none" stroke-width="0"/>
<path d="M466.9,384.2L469.0,386.3L466.9,388.4L464.8,386.3Z" fill="#fb9a5e" stroke="none" stroke-width="0"/>
<path d="M343.9,374.1L346.0,376.2L343.9,378.3L341.8,376.2Z" fill="#fb9a5e" stroke="none" stroke-width="0"/>
<path d="M344.3,379.8L346.4,381.9L344.3,384.0L342.2,381.9Z" fill="#fb9a5e" stroke="none" stroke-width="0"/>
<path d="M356.2,382.7L358.3,384.8L356.2,386.9L354.1,384.8Z" fill="#fb9a5e" stroke="none" stroke-width="0"/>
<path d="M363.8,380.8L365.9,382.9L363.8,385.0L361.7,382.9Z" fill="#fb9a5e" stroke="none" stroke-width="0"/>
<path d="M366.7,377.0L368.8,379.1L366.7,381.2L364.6,379.1Z" fill="#fb9a5e" stroke="none" stroke-width="0"/>
<path d="M370.5,378.9L372.6,381.0L370.5,383.1L368.4,381.0Z" fill="#fb9a5e" stroke="none" stroke-width="0"/>
<path d="M373.3,377.0L375.4,379.1L373.3,381.2L371.2,379.1Z" fill="#fb9a5e" stroke="none" stroke-width="0"/>
<path d="M375.2,380.8L377.3,382.9L375.2,385.0L373.1,382.9Z" fill="#fb9a5e" stroke="none" stroke-width="0"/>
<path d="M380.9,377.0L383.0,379.1L380.9,381.2L378.8,379.1Z" fill="#fb9a5e" stroke="none" stroke-width="0"/>
<path d="M384.7,382.2L386.8,384.4L384.7,386.5L382.6,384.4Z" fill="#fb9a5e" stroke="none" stroke-width="0"/>
<path d="M405.2,383.0L407.3,385.1L405.2,387.2L403.1,385.1Z" fill="#fb9a5e" stroke="none" stroke-width="0"/>
<path d="M416.0,381.1L418.1,383.2L416.0,385.3L413.9,383.2Z" fill="#fb9a5e" stroke="none" stroke-width="0"/>
<path d="M417.0,383.6L419.1,385.7L417.0,387.8L414.9,385.7Z" fill="#fb9a5e" stroke="none" stroke-width="0"/>
<path d="M419.8,384.5L421.9,386.6L419.8,388.8L417.7,386.6Z" fill="#fb9a5e" stroke="none" stroke-width="0"/>
<path d="M424.6,384.5L426.8,386.6L424.6,388.8L422.5,386.6Z" fill="#fb9a5e" stroke="none" stroke-width="0"/>
<path d="M412.6,387.4L414.8,389.5L412.6,391.6L410.5,389.5Z" fill="#fb9a5e" stroke="none" stroke-width="0"/>
<path d="M417.9,390.2L420.0,392.3L417.9,394.4L415.8,392.3Z" fill="#fb9a5e" stroke="none" stroke-width="0"/>
<path d="M422.7,389.9L424.8,392.0L422.7,394.1L420.6,392.0Z" fill="#fb9a5e" stroke="none" stroke-width="0"/>
<path d="M425.5,395.6L427.6,397.7L425.5,399.8L423.4,397.7Z" fill="#fb9a5e" stroke="none" stroke-width="0"/>
<path d="M433.5,388.7L435.6,390.8L433.5,392.9L431.4,390.8Z" fill="#fb9a5e" stroke="none" stroke-width="0"/>
<path d="M452.1,384.9L454.2,387.0L452.1,389.1L450.0,387.0Z" fill="#fb9a5e" stroke="none" stroke-width="0"/>
<path d="M454.0,389.2L456.1,391.4L454.0,393.5L451.9,391.4Z" fill="#fb9a5e" stroke="none" stroke-width="0"/>
<path d="M455.9,391.8L458.0,393.9L455.9,396.0L453.8,393.9Z" fill="#fb9a5e" stroke="none" stroke-width="0"/>
<path d="M463.5,389.2L465.6,391.4L463.5,393.5L461.4,391.4Z" fill="#fb9a5e" stroke="none" stroke-width="0"/>
<path d="M465.4,386.4L467.5,388.5L465.4,390.6L463.2,388.5Z" fill="#fb9a5e" stroke="none" stroke-width="0"/>
<path d="M440.7,399.7L442.8,401.8L440.7,403.9L438.6,401.8Z" fill="#fb9a5e" stroke="none" stroke-width="0"/>
<path d="M447.3,399.7L449.4,401.8L447.3,403.9L445.2,401.8Z" fill="#fb9a5e" stroke="none" stroke-width="0"/>
<path d="M454.9,399.7L457.0,401.8L454.9,403.9L452.8,401.8Z" fill="#fb9a5e" stroke="none" stroke-width="0"/>
<path d="M444.5,405.4L446.6,407.5L444.5,409.6L442.4,407.5Z" fill="#fb9a5e" stroke="none" stroke-width="0"/>
<path d="M457.8,403.5L459.9,405.6L457.8,407.8L455.7,405.6Z" fill="#fb9a5e" stroke="none" stroke-width="0"/>
<path d="M448.8,410.7L450.9,412.8L448.8,414.9L446.7,412.8Z" fill="#fb9a5e" stroke="none" stroke-width="0"/>
<path d="M451.5,413.7L453.6,415.8L451.5,417.9L449.4,415.8Z" fill="#fb9a5e" stroke="none" stroke-width="0"/>
<path d="M445.5,407.9L447.6,410.0L445.5,412.1L443.4,410.0Z" fill="#fb9a5e" stroke="none" stroke-width="0"/>
<path d="M454.5,401.9L456.6,404.0L454.5,406.1L452.4,404.0Z" fill="#fb9a5e" stroke="none" stroke-width="0"/>
<path d="M347.7,392.1L349.8,394.2L347.7,396.3L345.6,394.2Z" fill="#fb9a5e" stroke="none" stroke-width="0"/>
<path d="M349.6,395.6L351.8,397.7L349.6,399.8L347.5,397.7Z" fill="#fb9a5e" stroke="none" stroke-width="0"/>
<path d="M352.4,393.1L354.5,395.2L352.4,397.3L350.2,395.2Z" fill="#fb9a5e" stroke="none" stroke-width="0"/>
<path d="M353.4,398.8L355.5,400.9L353.4,403.0L351.2,400.9Z" fill="#fb9a5e" stroke="none" stroke-width="0"/>
<path d="M345.8,399.7L347.9,401.8L345.8,403.9L343.7,401.8Z" fill="#fb9a5e" stroke="none" stroke-width="0"/>
<path d="M350.5,403.5L352.6,405.6L350.5,407.8L348.4,405.6Z" fill="#fb9a5e" stroke="none" stroke-width="0"/>
<path d="M336.6,391.2L338.8,393.3L336.6,395.4L334.5,393.3Z" fill="#fb9a5e" stroke="none" stroke-width="0"/>
<path d="M338.8,397.8L340.9,399.9L338.8,402.0L336.7,399.9Z" fill="#fb9a5e" stroke="none" stroke-width="0"/>
<path d="M340.5,400.6L342.6,402.7L340.5,404.8L338.4,402.7Z" fill="#fb9a5e" stroke="none" stroke-width="0"/>
<path d="M343.1,402.2L345.2,404.3L343.1,406.4L341.0,404.3Z" fill="#fb9a5e" stroke="none" stroke-width="0"/>
<path d="M346.4,401.1L348.5,403.2L346.4,405.3L344.2,403.2Z" fill="#fb9a5e" stroke="none" stroke-width="0"/>
<path d="M345.3,393.4L347.4,395.5L345.3,397.6L343.2,395.5Z" fill="#fb9a5e" stroke="none" stroke-width="0"/>
<path d="M349.7,395.6L351.8,397.7L349.7,399.8L347.6,397.7Z" fill="#fb9a5e" stroke="none" stroke-width="0"/>
<path d="M351.5,391.9L353.6,394.0L351.5,396.1L349.4,394.0Z" fill="#fb9a5e" stroke="none" stroke-width="0"/>
<path d="M353.7,386.2L355.8,388.3L353.7,390.4L351.6,388.3Z" fill="#fb9a5e" stroke="none" stroke-width="0"/>
<path d="M355.2,390.1L357.3,392.2L355.2,394.3L353.1,392.2Z" fill="#fb9a5e" stroke="none" stroke-width="0"/>
<path d="M358.5,389.0L360.6,391.1L358.5,393.2L356.4,391.1Z" fill="#fb9a5e" stroke="none" stroke-width="0"/>
<path d="M360.7,393.4L362.8,395.5L360.7,397.6L358.6,395.5Z" fill="#fb9a5e" stroke="none" stroke-width="0"/>
<path d="M362.8,394.5L364.9,396.6L362.8,398.8L360.7,396.6Z" fill="#fb9a5e" stroke="none" stroke-width="0"/>
<path d="M365.0,395.6L367.1,397.7L365.0,399.8L362.9,397.7Z" fill="#fb9a5e" stroke="none" stroke-width="0"/>
<path d="M363.9,391.2L366.0,393.3L363.9,395.4L361.8,393.3Z" fill="#fb9a5e" stroke="none" stroke-width="0"/>
<path d="M366.1,381.4L368.2,383.5L366.1,385.6L364.0,383.5Z" fill="#fb9a5e" stroke="none" stroke-width="0"/>
<path d="M369.4,383.6L371.5,385.7L369.4,387.8L367.2,385.7Z" fill="#fb9a5e" stroke="none" stroke-width="0"/>
<path d="M371.6,390.1L373.8,392.2L371.6,394.3L369.5,392.2Z" fill="#fb9a5e" stroke="none" stroke-width="0"/>
<path d="M372.7,398.9L374.8,401.0L372.7,403.1L370.6,401.0Z" fill="#fb9a5e" stroke="none" stroke-width="0"/>
<path d="M369.4,407.7L371.5,409.8L369.4,411.9L367.2,409.8Z" fill="#fb9a5e" stroke="none" stroke-width="0"/>
<path d="M348.6,409.4L350.8,411.5L348.6,413.6L346.5,411.5Z" fill="#fb9a5e" stroke="none" stroke-width="0"/>
<path d="M332.2,405.5L334.3,407.6L332.2,409.8L330.1,407.6Z" fill="#fb9a5e" stroke="none" stroke-width="0"/>
<path d="M341.0,406.6L343.1,408.7L341.0,410.8L338.9,408.7Z" fill="#fb9a5e" stroke="none" stroke-width="0"/>
<path d="M352.0,401.1L354.1,403.2L352.0,405.3L349.9,403.2Z" fill="#fb9a5e" stroke="none" stroke-width="0"/>
<path d="M372.4,389.2L374.5,391.4L372.4,393.5L370.2,391.4Z" fill="#fb9a5e" stroke="none" stroke-width="0"/>
<path d="M375.2,388.2L377.3,390.4L375.2,392.5L373.1,390.4Z" fill="#fb9a5e" stroke="none" stroke-width="0"/>
<path d="M373.3,394.0L375.4,396.1L373.3,398.2L371.2,396.1Z" fill="#fb9a5e" stroke="none" stroke-width="0"/>
<path d="M371.4,399.7L373.5,401.8L371.4,403.9L369.2,401.8Z" fill="#fb9a5e" stroke="none" stroke-width="0"/>
<path d="M374.3,401.6L376.4,403.7L374.3,405.8L372.2,403.7Z" fill="#fb9a5e" stroke="none" stroke-width="0"/>
<path d="M515.3,302.5L517.4,304.6L515.3,306.8L513.1,304.6Z" fill="#fb9a5e" stroke="none" stroke-width="0"/>
<path d="M525.2,307.1L527.4,309.2L525.2,311.3L523.1,309.2Z" fill="#fb9a5e" stroke="none" stroke-width="0"/>
<path d="M500.8,317.8L502.9,319.9L500.8,322.0L498.7,319.9Z" fill="#fb9a5e" stroke="none" stroke-width="0"/>
<path d="M493.8,322.9L495.9,325.0L493.8,327.1L491.7,325.0Z" fill="#fb9a5e" stroke="none" stroke-width="0"/>
<path d="M540.1,319.4L542.2,321.5L540.1,323.6L538.0,321.5Z" fill="#fb9a5e" stroke="none" stroke-width="0"/>
<path d="M564.3,315.8L566.4,317.9L564.3,320.0L562.1,317.9Z" fill="#fb9a5e" stroke="none" stroke-width="0"/>
<path d="M581.2,305.1L583.4,307.2L581.2,309.3L579.1,307.2Z" fill="#fb9a5e" stroke="none" stroke-width="0"/>
<path d="M590.5,313.0L592.6,315.1L590.5,317.2L588.4,315.1Z" fill="#fb9a5e" stroke="none" stroke-width="0"/>
<path d="M590.5,318.4L592.6,320.5L590.5,322.6L588.4,320.5Z" fill="#fb9a5e" stroke="none" stroke-width="0"/>
<path d="M602.6,315.0L604.8,317.1L602.6,319.2L600.5,317.1Z" fill="#fb9a5e" stroke="none" stroke-width="0"/>
<path d="M580.8,327.9L582.9,330.0L580.8,332.1L578.6,330.0Z" fill="#fb9a5e" stroke="none" stroke-width="0"/>
<path d="M602.6,328.9L604.8,331.0L602.6,333.1L600.5,331.0Z" fill="#fb9a5e" stroke="none" stroke-width="0"/>
<path d="M595.1,336.2L597.2,338.3L595.1,340.4L593.0,338.3Z" fill="#fb9a5e" stroke="none" stroke-width="0"/>
<path d="M588.1,363.0L590.2,365.1L588.1,367.2L586.0,365.1Z" fill="#fb9a5e" stroke="none" stroke-width="0"/>
<path d="M557.4,338.8L559.5,340.9L557.4,343.0L555.2,340.9Z" fill="#fb9a5e" stroke="none" stroke-width="0"/>
<path d="M478.6,334.7L480.8,336.8L478.6,338.9L476.5,336.8Z" fill="#fb9a5e" stroke="none" stroke-width="0"/>
<path d="M486.3,335.7L488.4,337.8L486.3,339.9L484.2,337.8Z" fill="#fb9a5e" stroke="none" stroke-width="0"/>
<path d="M501.4,335.2L503.5,337.4L501.4,339.5L499.2,337.4Z" fill="#fb9a5e" stroke="none" stroke-width="0"/>
<path d="M481.9,345.2L484.0,347.3L481.9,349.4L479.8,347.3Z" fill="#fb9a5e" stroke="none" stroke-width="0"/>
<path d="M484.9,345.6L487.0,347.7L484.9,349.8L482.8,347.7Z" fill="#fb9a5e" stroke="none" stroke-width="0"/>
<path d="M487.5,345.8L489.6,347.9L487.5,350.0L485.4,347.9Z" fill="#fb9a5e" stroke="none" stroke-width="0"/>
<path d="M490.9,348.2L493.0,350.3L490.9,352.4L488.8,350.3Z" fill="#fb9a5e" stroke="none" stroke-width="0"/>
<path d="M476.0,351.1L478.1,353.2L476.0,355.3L473.9,353.2Z" fill="#fb9a5e" stroke="none" stroke-width="0"/>
<path d="M478.9,351.1L481.0,353.2L478.9,355.3L476.8,353.2Z" fill="#fb9a5e" stroke="none" stroke-width="0"/>
<path d="M479.9,354.1L482.0,356.2L479.9,358.3L477.8,356.2Z" fill="#fb9a5e" stroke="none" stroke-width="0"/>
<path d="M475.0,358.1L477.1,360.2L475.0,362.3L472.9,360.2Z" fill="#fb9a5e" stroke="none" stroke-width="0"/>
<path d="M478.0,359.1L480.1,361.2L478.0,363.3L475.9,361.2Z" fill="#fb9a5e" stroke="none" stroke-width="0"/>
<path d="M482.9,357.1L485.0,359.2L482.9,361.3L480.8,359.2Z" fill="#fb9a5e" stroke="none" stroke-width="0"/>
<path d="M488.9,356.7L491.0,358.8L488.9,360.9L486.8,358.8Z" fill="#fb9a5e" stroke="none" stroke-width="0"/>
<path d="M495.8,356.1L497.9,358.2L495.8,360.3L493.7,358.2Z" fill="#fb9a5e" stroke="none" stroke-width="0"/>
<path d="M498.8,360.7L500.9,362.8L498.8,364.9L496.7,362.8Z" fill="#fb9a5e" stroke="none" stroke-width="0"/>
<path d="M483.9,361.1L486.0,363.2L483.9,365.3L481.8,363.2Z" fill="#fb9a5e" stroke="none" stroke-width="0"/>
<path d="M480.9,364.0L483.0,366.1L480.9,368.2L478.8,366.1Z" fill="#fb9a5e" stroke="none" stroke-width="0"/>
<path d="M476.0,363.0L478.1,365.1L476.0,367.2L473.9,365.1Z" fill="#fb9a5e" stroke="none" stroke-width="0"/>
<path d="M478.0,367.0L480.1,369.1L478.0,371.2L475.9,369.1Z" fill="#fb9a5e" stroke="none" stroke-width="0"/>
<path d="M482.9,367.0L485.0,369.1L482.9,371.2L480.8,369.1Z" fill="#fb9a5e" stroke="none" stroke-width="0"/>
<path d="M487.9,366.0L490.0,368.1L487.9,370.2L485.8,368.1Z" fill="#fb9a5e" stroke="none" stroke-width="0"/>
<path d="M493.8,368.0L495.9,370.1L493.8,372.2L491.7,370.1Z" fill="#fb9a5e" stroke="none" stroke-width="0"/>
<path d="M499.8,367.4L501.9,369.5L499.8,371.6L497.7,369.5Z" fill="#fb9a5e" stroke="none" stroke-width="0"/>
<path d="M474.4,370.0L476.5,372.1L474.4,374.2L472.2,372.1Z" fill="#fb9a5e" stroke="none" stroke-width="0"/>
<path d="M478.9,372.0L481.0,374.1L478.9,376.2L476.8,374.1Z" fill="#fb9a5e" stroke="none" stroke-width="0"/>
<path d="M483.9,372.0L486.0,374.1L483.9,376.2L481.8,374.1Z" fill="#fb9a5e" stroke="none" stroke-width="0"/>
<path d="M486.9,374.0L489.0,376.1L486.9,378.2L484.8,376.1Z" fill="#fb9a5e" stroke="none" stroke-width="0"/>
<path d="M476.0,375.9L478.1,378.0L476.0,380.1L473.9,378.0Z" fill="#fb9a5e" stroke="none" stroke-width="0"/>
<path d="M474.0,378.9L476.1,381.0L474.0,383.1L471.9,381.0Z" fill="#fb9a5e" stroke="none" stroke-width="0"/>
<path d="M489.9,376.9L492.0,379.0L489.9,381.1L487.8,379.0Z" fill="#fb9a5e" stroke="none" stroke-width="0"/>
<path d="M491.9,379.2L494.0,381.4L491.9,383.5L489.8,381.4Z" fill="#fb9a5e" stroke="none" stroke-width="0"/>
<path d="M496.4,375.4L498.5,377.5L496.4,379.6L494.2,377.5Z" fill="#fb9a5e" stroke="none" stroke-width="0"/>
<path d="M506.1,375.4L508.2,377.5L506.1,379.6L504.0,377.5Z" fill="#fb9a5e" stroke="none" stroke-width="0"/>
<path d="M487.9,381.9L490.0,384.0L487.9,386.1L485.8,384.0Z" fill="#fb9a5e" stroke="none" stroke-width="0"/>
<path d="M490.5,385.2L492.6,387.4L490.5,389.5L488.4,387.4Z" fill="#fb9a5e" stroke="none" stroke-width="0"/>
<path d="M480.9,391.2L483.0,393.3L480.9,395.4L478.8,393.3Z" fill="#fb9a5e" stroke="none" stroke-width="0"/>
<path d="M480.9,393.8L483.0,395.9L480.9,398.0L478.8,395.9Z" fill="#fb9a5e" stroke="none" stroke-width="0"/>
<path d="M494.8,395.8L496.9,397.9L494.8,400.0L492.7,397.9Z" fill="#fb9a5e" stroke="none" stroke-width="0"/>
<path d="M497.4,399.8L499.5,401.9L497.4,404.0L495.2,401.9Z" fill="#fb9a5e" stroke="none" stroke-width="0"/>
<path d="M154.1,324.2L156.2,326.4L154.1,328.5L151.9,326.4Z" fill="#f85c5e" stroke="none" stroke-width="0"/>
<path d="M197.4,329.1L199.6,331.2L197.4,333.3L195.2,331.2Z" fill="#f85c5e" stroke="none" stroke-width="0"/>
<path d="M204.4,336.7L206.6,338.8L204.4,340.9L202.2,338.8Z" fill="#f85c5e" stroke="none" stroke-width="0"/>
<path d="M191.5,339.9L193.7,342.0L191.5,344.1L189.3,342.0Z" fill="#f85c5e" stroke="none" stroke-width="0"/>
<path d="M188.5,343.5L190.7,345.6L188.5,347.8L186.3,345.6Z" fill="#f85c5e" stroke="none" stroke-width="0"/>
<path d="M166.8,354.2L169.0,356.4L166.8,358.5L164.7,356.4Z" fill="#f85c5e" stroke="none" stroke-width="0"/>
<path d="M163.6,357.4L165.8,359.5L163.6,361.6L161.4,359.5Z" fill="#f85c5e" stroke="none" stroke-width="0"/>
<path d="M200.0,351.9L202.2,354.0L200.0,356.1L197.8,354.0Z" fill="#f85c5e" stroke="none" stroke-width="0"/>
<path d="M178.2,363.2L180.3,365.3L178.2,367.4L176.0,365.3Z" fill="#f85c5e" stroke="none" stroke-width="0"/>
<path d="M192.5,362.9L194.7,365.0L192.5,367.1L190.3,365.0Z" fill="#f85c5e" stroke="none" stroke-width="0"/>
<path d="M183.2,365.1L185.3,367.2L183.2,369.3L181.0,367.2Z" fill="#f85c5e" stroke="none" stroke-width="0"/>
<path d="M182.6,367.4L184.8,369.5L182.6,371.6L180.4,369.5Z" fill="#f85c5e" stroke="none" stroke-width="0"/>
<path d="M108.2,362.9L110.4,365.0L108.2,367.1L106.0,365.0Z" fill="#f85c5e" stroke="none" stroke-width="0"/>
<path d="M83.0,362.9L85.2,365.0L83.0,367.1L80.8,365.0Z" fill="#f85c5e" stroke="none" stroke-width="0"/>
<path d="M207.3,369.5L209.5,371.6L207.3,373.8L205.2,371.6Z" fill="#f85c5e" stroke="none" stroke-width="0"/>
<path d="M91.9,376.5L94.1,378.6L91.9,380.8L89.8,378.6Z" fill="#f85c5e" stroke="none" stroke-width="0"/>
<path d="M173.5,378.4L175.7,380.5L173.5,382.6L171.3,380.5Z" fill="#f85c5e" stroke="none" stroke-width="0"/>
<path d="M172.7,382.2L174.8,384.3L172.7,386.4L170.5,384.3Z" fill="#f85c5e" stroke="none" stroke-width="0"/>
<path d="M205.4,410.7L207.6,412.8L205.4,414.9L203.2,412.8Z" fill="#f85c5e" stroke="none" stroke-width="0"/>
<path d="M211.0,273.1L213.2,275.2L211.0,277.3L208.8,275.2Z" fill="#f85c5e" stroke="none" stroke-width="0"/>
<path d="M212.0,273.1L214.2,275.2L212.0,277.3L209.8,275.2Z" fill="#f85c5e" stroke="none" stroke-width="0"/>
<path d="M289.8,275.6L291.9,277.7L289.8,279.8L287.7,277.7Z" fill="#f85c5e" stroke="none" stroke-width="0"/>
<path d="M279.8,283.5L281.9,285.6L279.8,287.8L277.7,285.6Z" fill="#f85c5e" stroke="none" stroke-width="0"/>
<path d="M275.8,286.4L277.9,288.5L275.8,290.6L273.7,288.5Z" fill="#f85c5e" stroke="none" stroke-width="0"/>
<path d="M277.5,290.2L279.6,292.3L277.5,294.4L275.4,292.3Z" fill="#f85c5e" stroke="none" stroke-width="0"/>
<path d="M280.3,288.2L282.4,290.4L280.3,292.5L278.2,290.4Z" fill="#f85c5e" stroke="none" stroke-width="0"/>
<path d="M283.2,289.2L285.3,291.3L283.2,293.4L281.1,291.3Z" fill="#f85c5e" stroke="none" stroke-width="0"/>
<path d="M282.2,293.0L284.3,295.1L282.2,297.2L280.1,295.1Z" fill="#f85c5e" stroke="none" stroke-width="0"/>
<path d="M287.5,286.9L289.6,289.0L287.5,291.1L285.4,289.0Z" fill="#f85c5e" stroke="none" stroke-width="0"/>
<path d="M294.0,286.9L296.1,289.0L294.0,291.1L291.9,289.0Z" fill="#f85c5e" stroke="none" stroke-width="0"/>
<path d="M301.2,289.2L303.3,291.3L301.2,293.4L299.1,291.3Z" fill="#f85c5e" stroke="none" stroke-width="0"/>
<path d="M306.9,286.0L309.0,288.1L306.9,290.2L304.8,288.1Z" fill="#f85c5e" stroke="none" stroke-width="0"/>
<path d="M314.5,290.5L316.6,292.6L314.5,294.8L312.4,292.6Z" fill="#f85c5e" stroke="none" stroke-width="0"/>
<path d="M321.7,289.8L323.8,291.9L321.7,294.0L319.6,291.9Z" fill="#f85c5e" stroke="none" stroke-width="0"/>
<path d="M333.1,298.7L335.2,300.8L333.1,302.9L331.0,300.8Z" fill="#f85c5e" stroke="none" stroke-width="0"/>
<path d="M314.5,301.9L316.6,304.0L314.5,306.1L312.4,304.0Z" fill="#f85c5e" stroke="none" stroke-width="0"/>
<path d="M289.4,294.9L291.5,297.0L289.4,299.1L287.2,297.0Z" fill="#f85c5e" stroke="none" stroke-width="0"/>
<path d="M278.4,297.2L280.5,299.3L278.4,301.4L276.2,299.3Z" fill="#f85c5e" stroke="none" stroke-width="0"/>
<path d="M254.9,301.9L257.1,304.0L254.9,306.1L252.8,304.0Z" fill="#f85c5e" stroke="none" stroke-width="0"/>
<path d="M268.2,303.4L270.3,305.5L268.2,307.6L266.1,305.5Z" fill="#f85c5e" stroke="none" stroke-width="0"/>
<path d="M283.2,306.2L285.3,308.4L283.2,310.5L281.1,308.4Z" fill="#f85c5e" stroke="none" stroke-width="0"/>
<path d="M226.4,307.2L228.6,309.3L226.4,311.4L224.2,309.3Z" fill="#f85c5e" stroke="none" stroke-width="0"/>
<path d="M231.9,312.4L234.1,314.5L231.9,316.6L229.8,314.5Z" fill="#f85c5e" stroke="none" stroke-width="0"/>
<path d="M236.7,313.5L238.8,315.6L236.7,317.8L234.5,315.6Z" fill="#f85c5e" stroke="none" stroke-width="0"/>
<path d="M246.5,309.5L248.7,311.6L246.5,313.8L244.3,311.6Z" fill="#f85c5e" stroke="none" stroke-width="0"/>
<path d="M246.7,313.2L248.8,315.4L246.7,317.5L244.5,315.4Z" fill="#f85c5e" stroke="none" stroke-width="0"/>
<path d="M253.8,310.7L256.0,312.8L253.8,314.9L251.7,312.8Z" fill="#f85c5e" stroke="none" stroke-width="0"/>
<path d="M261.0,314.8L263.1,316.9L261.0,319.0L258.9,316.9Z" fill="#f85c5e" stroke="none" stroke-width="0"/>
<path d="M263.6,314.8L265.8,316.9L263.6,319.0L261.5,316.9Z" fill="#f85c5e" stroke="none" stroke-width="0"/>
<path d="M270.8,311.0L272.9,313.1L270.8,315.2L268.7,313.1Z" fill="#f85c5e" stroke="none" stroke-width="0"/>
<path d="M275.4,315.4L277.5,317.5L275.4,319.6L273.2,317.5Z" fill="#f85c5e" stroke="none" stroke-width="0"/>
<path d="M278.8,320.0L280.9,322.1L278.8,324.2L276.7,322.1Z" fill="#f85c5e" stroke="none" stroke-width="0"/>
<path d="M284.7,312.9L286.8,315.0L284.7,317.1L282.6,315.0Z" fill="#f85c5e" stroke="none" stroke-width="0"/>
<path d="M288.5,309.1L290.6,311.2L288.5,313.3L286.4,311.2Z" fill="#f85c5e" stroke="none" stroke-width="0"/>
<path d="M289.8,308.8L291.9,310.9L289.8,313.0L287.7,310.9Z" fill="#f85c5e" stroke="none" stroke-width="0"/>
<path d="M221.5,320.5L223.7,322.6L221.5,324.8L219.3,322.6Z" fill="#f85c5e" stroke="none" stroke-width="0"/>
<path d="M215.4,328.1L217.6,330.2L215.4,332.3L213.2,330.2Z" fill="#f85c5e" stroke="none" stroke-width="0"/>
<path d="M254.9,324.2L257.1,326.4L254.9,328.5L252.8,326.4Z" fill="#f85c5e" stroke="none" stroke-width="0"/>
<path d="M290.0,332.9L292.1,335.0L290.0,337.1L287.9,335.0Z" fill="#f85c5e" stroke="none" stroke-width="0"/>
<path d="M226.4,342.5L228.6,344.6L226.4,346.8L224.2,344.6Z" fill="#f85c5e" stroke="none" stroke-width="0"/>
<path d="M238.6,347.1L240.8,349.2L238.6,351.3L236.4,349.2Z" fill="#f85c5e" stroke="none" stroke-width="0"/>
<path d="M215.4,342.9L217.6,345.0L215.4,347.1L213.2,345.0Z" fill="#f85c5e" stroke="none" stroke-width="0"/>
<path d="M314.5,339.1L316.6,341.2L314.5,343.3L312.4,341.2Z" fill="#f85c5e" stroke="none" stroke-width="0"/>
<path d="M301.2,352.8L303.3,354.9L301.2,357.0L299.1,354.9Z" fill="#f85c5e" stroke="none" stroke-width="0"/>
<path d="M232.9,360.8L235.1,362.9L232.9,365.0L230.8,362.9Z" fill="#f85c5e" stroke="none" stroke-width="0"/>
<path d="M289.0,369.1L291.1,371.2L289.0,373.3L286.9,371.2Z" fill="#f85c5e" stroke="none" stroke-width="0"/>
<path d="M289.0,373.2L291.1,375.4L289.0,377.5L286.9,375.4Z" fill="#f85c5e" stroke="none" stroke-width="0"/>
<path d="M220.4,369.5L222.6,371.6L220.4,373.8L218.2,371.6Z" fill="#f85c5e" stroke="none" stroke-width="0"/>
<path d="M377.1,252.0L379.2,254.2L377.1,256.3L375.0,254.2Z" fill="#f85c5e" stroke="none" stroke-width="0"/>
<path d="M383.4,262.1L385.5,264.2L383.4,266.3L381.2,264.2Z" fill="#f85c5e" stroke="none" stroke-width="0"/>
<path d="M390.6,261.2L392.8,263.3L390.6,265.4L388.5,263.3Z" fill="#f85c5e" stroke="none" stroke-width="0"/>
<path d="M397.6,258.9L399.8,261.0L397.6,263.1L395.5,261.0Z" fill="#f85c5e" stroke="none" stroke-width="0"/>
<path d="M357.6,271.1L359.8,273.2L357.6,275.3L355.5,273.2Z" fill="#f85c5e" stroke="none" stroke-width="0"/>
<path d="M373.9,272.2L376.0,274.3L373.9,276.4L371.8,274.3Z" fill="#f85c5e" stroke="none" stroke-width="0"/>
<path d="M417.0,265.6L419.1,267.7L417.0,269.8L414.9,267.7Z" fill="#f85c5e" stroke="none" stroke-width="0"/>
<path d="M436.0,269.7L438.1,271.8L436.0,273.9L433.9,271.8Z" fill="#f85c5e" stroke="none" stroke-width="0"/>
<path d="M444.1,270.1L446.2,272.2L444.1,274.3L442.0,272.2Z" fill="#f85c5e" stroke="none" stroke-width="0"/>
<path d="M455.9,264.6L458.0,266.7L455.9,268.8L453.8,266.7Z" fill="#f85c5e" stroke="none" stroke-width="0"/>
<path d="M347.7,281.7L349.8,283.8L347.7,285.9L345.6,283.8Z" fill="#f85c5e" stroke="none" stroke-width="0"/>
<path d="M347.7,283.0L349.8,285.1L347.7,287.2L345.6,285.1Z" fill="#f85c5e" stroke="none" stroke-width="0"/>
<path d="M365.7,287.8L367.8,289.9L365.7,292.0L363.6,289.9Z" fill="#f85c5e" stroke="none" stroke-width="0"/>
<path d="M367.2,289.2L369.3,291.4L367.2,293.5L365.1,291.4Z" fill="#f85c5e" stroke="none" stroke-width="0"/>
<path d="M375.2,286.2L377.3,288.3L375.2,290.4L373.1,288.3Z" fill="#f85c5e" stroke="none" stroke-width="0"/>
<path d="M385.3,280.5L387.4,282.6L385.3,284.8L383.2,282.6Z" fill="#f85c5e" stroke="none" stroke-width="0"/>
<path d="M388.5,283.6L390.6,285.7L388.5,287.8L386.4,285.7Z" fill="#f85c5e" stroke="none" stroke-width="0"/>
<path d="M403.7,288.1L405.8,290.2L403.7,292.3L401.6,290.2Z" fill="#f85c5e" stroke="none" stroke-width="0"/>
<path d="M436.0,284.2L438.1,286.4L436.0,288.5L433.9,286.4Z" fill="#f85c5e" stroke="none" stroke-width="0"/>
<path d="M348.6,295.0L350.8,297.1L348.6,299.2L346.5,297.1Z" fill="#f85c5e" stroke="none" stroke-width="0"/>
<path d="M358.5,295.0L360.6,297.1L358.5,299.2L356.4,297.1Z" fill="#f85c5e" stroke="none" stroke-width="0"/>
<path d="M348.1,300.7L350.2,302.8L348.1,304.9L346.0,302.8Z" fill="#f85c5e" stroke="none" stroke-width="0"/>
<path d="M356.8,308.6L358.9,310.7L356.8,312.8L354.7,310.7Z" fill="#f85c5e" stroke="none" stroke-width="0"/>
<path d="M347.7,329.1L349.8,331.2L347.7,333.3L345.6,331.2Z" fill="#f85c5e" stroke="none" stroke-width="0"/>
<path d="M383.8,336.2L385.9,338.3L383.8,340.4L381.7,338.3Z" fill="#f85c5e" stroke="none" stroke-width="0"/>
<path d="M383.8,349.4L385.9,351.5L383.8,353.6L381.7,351.5Z" fill="#f85c5e" stroke="none" stroke-width="0"/>
<path d="M488.9,249.4L491.0,251.6L488.9,253.8L486.8,251.6Z" fill="#f85c5e" stroke="none" stroke-width="0"/>
<path d="M477.6,263.4L479.8,265.5L477.6,267.6L475.5,265.5Z" fill="#f85c5e" stroke="none" stroke-width="0"/>
<path d="M477.6,268.2L479.8,270.4L477.6,272.5L475.5,270.4Z" fill="#f85c5e" stroke="none" stroke-width="0"/>
<path d="M488.9,299.9L491.0,302.0L488.9,304.1L486.8,302.0Z" fill="#f85c5e" stroke="none" stroke-width="0"/>
<path d="M390.5,238.7L392.6,240.8L390.5,243.0L388.4,240.8Z" fill="#f85c5e" stroke="none" stroke-width="0"/>
<path d="M395.0,245.3L397.1,247.5L395.0,249.7L392.9,247.5Z" fill="#f85c5e" stroke="none" stroke-width="0"/>
<path d="M444.0,245.8L446.1,248.0L444.0,250.2L441.9,248.0Z" fill="#f85c5e" stroke="none" stroke-width="0"/>
<path d="M456.7,245.8L458.8,248.0L456.7,250.2L454.6,248.0Z" fill="#f85c5e" stroke="none" stroke-width="0"/>
<polyline points="109.5,375.2 170.0,369.5 212.0,368.6 243.8,368.5 292.0,378.7 343.1,383.3 409.9,352.8 443.9,362.0 475.0,362.5 491.9,355.2 511.7,342.3 545.5,335.4 578.2,325.4" fill="none" stroke="#fcc89c" stroke-width="0.7" stroke-linejoin="round" stroke-linecap="round" />
<polyline points="109.5,388.5 212.0,380.2 243.8,379.6 292.0,385.7 343.1,388.1 409.9,367.1 443.9,372.0 475.0,373.0 491.9,365.1 511.7,361.2 545.5,349.3 578.2,343.7" fill="none" stroke="#fcc89c" stroke-width="0.7" stroke-linejoin="round" stroke-linecap="round" />
<path d="M82.5,353.4C94.4,354.3 132.4,361.3 154.0,359.0C175.6,356.7 196.0,347.4 212.0,339.7C228.0,332.0 237.0,320.1 250.0,313.0C263.0,305.9 274.7,300.9 290.0,297.0C305.3,293.1 323.0,294.2 342.0,289.5C361.0,284.8 388.2,273.6 404.0,269.0C419.8,264.4 422.8,265.0 437.0,262.0C451.2,259.0 480.8,252.8 489.5,251.0" fill="none" stroke="#a02020" stroke-width="0.75" stroke-linejoin="round" stroke-linecap="round" stroke-opacity="0.6"/>
<path d="M82.5,368.2C94.4,368.0 132.4,370.6 154.0,367.2C175.6,363.8 196.0,355.5 212.0,348.0C228.0,340.5 237.0,329.2 250.0,322.0C263.0,314.8 274.7,309.2 290.0,305.0C305.3,300.8 323.0,301.8 342.0,297.0C361.0,292.2 388.2,280.6 404.0,276.5C419.8,272.4 422.9,273.5 437.0,272.5C451.1,271.5 480.2,270.8 488.9,270.4" fill="none" stroke="#a02020" stroke-width="0.75" stroke-linejoin="round" stroke-linecap="round" stroke-opacity="0.6"/>
<polyline points="109.5,376.2 243.8,374.3 265.7,377.4 292.0,382.4 309.5,385.7 343.1,385.7 376.0,370.8 411.0,360.1 443.9,367.1 480.0,367.7 491.9,362.2 511.7,353.2 545.5,341.7 579.2,334.4" fill="none" stroke="#fb9028" stroke-width="3.8" stroke-linejoin="round" stroke-linecap="round" />
<path d="M82.5,360.6C85.4,360.9 93.8,361.9 100.0,362.4C106.2,362.9 111.0,363.2 120.0,363.4C129.0,363.6 146.1,363.5 154.0,363.4C161.9,363.2 162.0,363.6 167.4,362.5C172.8,361.4 179.0,360.0 186.4,356.8C193.8,353.6 204.6,347.9 212.0,343.5C219.4,339.1 224.7,334.5 231.0,330.2C237.3,325.9 243.7,321.5 250.0,317.9C256.3,314.3 262.6,311.1 268.9,308.4C275.2,305.6 281.6,303.1 287.9,301.4C294.2,299.7 300.6,298.9 306.9,298.0C313.2,297.1 320.0,296.8 325.9,296.0C331.8,295.2 334.6,295.8 342.0,293.3C349.4,290.9 360.1,284.7 370.5,281.3C380.9,277.9 393.5,275.1 404.6,272.8C415.7,270.5 425.7,269.3 436.9,267.5C448.1,265.7 463.2,263.0 472.0,261.8C480.8,260.6 486.9,260.6 489.9,260.3" fill="none" stroke="#980000" stroke-width="3.5" stroke-linejoin="round" stroke-linecap="round" />
<text x="429.3" y="239" font-size="17" fill="#a00000" font-weight="bold" text-anchor="start" textLength="141.9" lengthAdjust="spacingAndGlyphs" stroke="#a00000" stroke-width="0.35" >core Arabian Sea</text>
<text x="429.7" y="301.2" font-size="17" fill="#f9952a" font-weight="bold" text-anchor="start" textLength="150.5" lengthAdjust="spacingAndGlyphs" stroke="#f9952a" stroke-width="0.35" >distal Arabian Sea</text>
<text x="429.7" y="320.5" font-size="17" fill="#f9952a" font-weight="bold" text-anchor="start" textLength="126.7" lengthAdjust="spacingAndGlyphs" stroke="#f9952a" stroke-width="0.35" >&amp; Indian Ocean</text>
<polyline points="82.5,467.6 93.4,465.3 104.0,450.5 114.3,442.5 124.5,484.6 135.1,471.3 145.4,471.7 156.0,434.2 166.6,457.7 176.9,427.3 187.9,464.5 198.1,412.1 208.4,444.4 219.4,415.9 230.0,447.4 240.6,466.4 250.9,478.9 261.1,465.3 271.8,494.9 282.4,507.4 292.6,507.0 300.0,508.2 314.4,512.3 334.9,463.8 345.5,520.7 356.2,497.2 366.4,523.3 377.8,528.3 387.3,493.0 397.9,513.9 419.5,525.2 429.8,497.2 451.0,532.8 482.2,515.7" fill="none" stroke="#000" stroke-width="2.0" stroke-linejoin="round" stroke-linecap="round" stroke-linejoin="miter"/>
<line x1="290.7" y1="490.3" x2="249.7" y2="429.6" stroke="#000" stroke-width="1.5"/>
<polyline points="258.5,434.5 249.7,429.6 251.0,439.6" fill="none" stroke="#000" stroke-width="1.8" stroke-linejoin="miter"/>
<text x="275.5" y="436" font-size="16" fill="#000" font-weight="bold" text-anchor="start" textLength="70.8" lengthAdjust="spacingAndGlyphs" stroke="#000" stroke-width="0.35" >more AS</text>
<text x="275.5" y="455" font-size="16" fill="#000" font-weight="bold" text-anchor="start" textLength="80.3" lengthAdjust="spacingAndGlyphs" stroke="#000" stroke-width="0.35" >upwelling</text>
<polyline points="161.4,535.3 164.4,536.4 167.1,542.9 172.8,484.0 178.5,523.1 183.4,544.0 188.0,544.0 191.0,555.4 205.0,556.5 221.3,597.1 227.0,579.3 232.4,591.4 238.0,583.1 246.8,583.1 251.3,593.3 254.9,591.6 264.1,581.5 267.8,623.5 275.8,649.3 278.5,605.7 279.8,666.5 281.7,613.7 282.5,635.8 283.4,613.7 285.6,552.3 287.5,637.0 289.1,615.5 290.3,672.6 294.0,601.4 301.3,592.6 314.2,598.2 322.7,619.9 333.3,602.8 347.5,595.2 357.8,619.7 367.2,603.6 373.7,669.1 383.4,670.1 389.8,678.7 411.3,636.3 436.3,679.7 444.4,681.3 456.3,625.7 477.7,649.2 489.5,708.8" fill="none" stroke="#ff9090" stroke-width="2.0" stroke-linejoin="round" stroke-linecap="round" />
<polyline points="380.8,599.7 387.8,685.2 400.0,644.0 409.0,683.5 451.4,681.5 554.0,703.1" fill="none" stroke="#999" stroke-width="2.0" stroke-linejoin="round" stroke-linecap="round" />
<circle cx="380.8" cy="599.7" r="3.6" fill="#999"/>
<circle cx="387.8" cy="685.2" r="3.6" fill="#999"/>
<circle cx="400" cy="644" r="3.6" fill="#999"/>
<circle cx="409" cy="683.5" r="3.6" fill="#999"/>
<circle cx="451.4" cy="681.5" r="3.6" fill="#999"/>
<circle cx="554" cy="703.1" r="3.6" fill="#999"/>
<line x1="397.8" y1="625.1" x2="373.7" y2="554.5" stroke="#f55555" stroke-width="1.6"/>
<polyline points="380.9,561.6 373.7,554.5 372.3,564.5" fill="none" stroke="#f55555" stroke-width="1.9000000000000001" stroke-linejoin="miter"/>
<text x="400.4" y="570.5" font-size="16" fill="#f55555" font-weight="bold" text-anchor="start" textLength="94.4" lengthAdjust="spacingAndGlyphs" stroke="#f55555" stroke-width="0.35" >less Tethys</text>
<text x="400.4" y="589.8" font-size="16" fill="#f55555" font-weight="bold" text-anchor="start" textLength="61.6" lengthAdjust="spacingAndGlyphs" stroke="#f55555" stroke-width="0.35" >outflow</text>
<polygon points="161.8,656.3 163.7,673.4 167.1,653.1 172.3,645.2 178.4,650.5 183.4,647.9 188.1,657.6 192.0,669.4 203.9,664.2 215.7,646.6 221.7,668.1 228.8,663.6 236.7,660.7 247.2,699.6 250.6,698.8 255.1,655.7 263.5,681.2 269.5,671.5 275.6,679.9 278.2,694.4 280.6,676.0 281.9,672.0 283.5,682.5 285.0,681.2 286.6,708.8 288.5,693.1 290.0,686.5 291.9,708.8 293.7,730.4 301.3,743.3 314.0,738.0 322.2,720.9 332.6,721.4 347.8,745.5 357.3,733.2 373.4,756.0 390.5,707.6 403.3,743.6 411.8,749.3 436.5,734.7 445.0,743.6 456.4,777.7 476.4,768.8 488.7,732.2 488.7,856.0 161.8,856.0" fill="#960000" fill-opacity="0.30"/>
<polyline points="161.8,656.3 163.7,673.4 167.1,653.1 172.3,645.2 178.4,650.5 183.4,647.9 188.1,657.6 192.0,669.4 203.9,664.2 215.7,646.6 221.7,668.1 228.8,663.6 236.7,660.7 247.2,699.6 250.6,698.8 255.1,655.7 263.5,681.2 269.5,671.5 275.6,679.9 278.2,694.4 280.6,676.0 281.9,672.0 283.5,682.5 285.0,681.2 286.6,708.8 288.5,693.1 290.0,686.5 291.9,708.8 293.7,730.4 301.3,743.3 314.0,738.0 322.2,720.9 332.6,721.4 347.8,745.5 357.3,733.2 373.4,756.0 390.5,707.6 403.3,743.6 411.8,749.3 436.5,734.7 445.0,743.6 456.4,777.7 476.4,768.8 488.7,732.2" fill="none" stroke="#b03a3a" stroke-width="1.5" stroke-linejoin="round" stroke-linecap="round" />
<polyline points="281.8,725.2 282.9,731.3 287.1,788.8 289.0,811.0 290.5,764.5 301.3,778.2 314.0,789.8 321.6,772.1 333.2,783.5 347.8,782.9 357.3,772.1 366.8,785.4 373.4,772.1 383.5,788.3 390.5,724.7 403.7,767.9 412.4,796.7 436.1,763.1 444.1,773.6 456.4,761.2 476.9,770.7 488.7,773.0" fill="none" stroke="#ffd0d0" stroke-width="3.0" stroke-linejoin="round" stroke-linecap="round" />
<rect x="278.6" y="722.0" width="6.4" height="6.4" fill="#fcd6d6" stroke="#8a8a8a" stroke-width="1.5"/>
<rect x="279.7" y="728.1" width="6.4" height="6.4" fill="#fcd6d6" stroke="#8a8a8a" stroke-width="1.5"/>
<rect x="283.9" y="785.6" width="6.4" height="6.4" fill="#fcd6d6" stroke="#8a8a8a" stroke-width="1.5"/>
<rect x="285.8" y="807.8" width="6.4" height="6.4" fill="#fcd6d6" stroke="#8a8a8a" stroke-width="1.5"/>
<rect x="287.3" y="761.3" width="6.4" height="6.4" fill="#fcd6d6" stroke="#8a8a8a" stroke-width="1.5"/>
<rect x="298.1" y="775.0" width="6.4" height="6.4" fill="#fcd6d6" stroke="#8a8a8a" stroke-width="1.5"/>
<rect x="310.8" y="786.6" width="6.4" height="6.4" fill="#fcd6d6" stroke="#8a8a8a" stroke-width="1.5"/>
<rect x="318.4" y="768.9" width="6.4" height="6.4" fill="#fcd6d6" stroke="#8a8a8a" stroke-width="1.5"/>
<rect x="330.0" y="780.3" width="6.4" height="6.4" fill="#fcd6d6" stroke="#8a8a8a" stroke-width="1.5"/>
<rect x="344.6" y="779.7" width="6.4" height="6.4" fill="#fcd6d6" stroke="#8a8a8a" stroke-width="1.5"/>
<rect x="354.1" y="768.9" width="6.4" height="6.4" fill="#fcd6d6" stroke="#8a8a8a" stroke-width="1.5"/>
<rect x="363.6" y="782.2" width="6.4" height="6.4" fill="#fcd6d6" stroke="#8a8a8a" stroke-width="1.5"/>
<rect x="370.2" y="768.9" width="6.4" height="6.4" fill="#fcd6d6" stroke="#8a8a8a" stroke-width="1.5"/>
<rect x="380.3" y="785.1" width="6.4" height="6.4" fill="#fcd6d6" stroke="#8a8a8a" stroke-width="1.5"/>
<rect x="387.3" y="721.5" width="6.4" height="6.4" fill="#fcd6d6" stroke="#8a8a8a" stroke-width="1.5"/>
<rect x="400.5" y="764.7" width="6.4" height="6.4" fill="#fcd6d6" stroke="#8a8a8a" stroke-width="1.5"/>
<rect x="409.2" y="793.5" width="6.4" height="6.4" fill="#fcd6d6" stroke="#8a8a8a" stroke-width="1.5"/>
<rect x="432.9" y="759.9" width="6.4" height="6.4" fill="#fcd6d6" stroke="#8a8a8a" stroke-width="1.5"/>
<rect x="440.9" y="770.4" width="6.4" height="6.4" fill="#fcd6d6" stroke="#8a8a8a" stroke-width="1.5"/>
<rect x="453.2" y="758.0" width="6.4" height="6.4" fill="#fcd6d6" stroke="#8a8a8a" stroke-width="1.5"/>
<rect x="473.7" y="767.5" width="6.4" height="6.4" fill="#fcd6d6" stroke="#8a8a8a" stroke-width="1.5"/>
<rect x="485.5" y="769.8" width="6.4" height="6.4" fill="#fcd6d6" stroke="#8a8a8a" stroke-width="1.5"/>
<polyline points="281.8,769.7 282.9,757.9 285.2,752.8 287.1,797.7 289.9,789.6 289.0,799.6 301.3,825.6 314.0,813.5 322.2,824.7 333.0,800.6 347.8,820.7 357.3,801.2 367.2,796.4 373.4,765.1 383.5,808.2 390.5,776.3 403.7,792.4 411.8,800.0 444.1,798.0 456.4,790.6 477.3,789.7 488.7,760.7" fill="none" stroke="#8b0000" stroke-width="3.6" stroke-linejoin="round" stroke-linecap="round" />
<path d="M281.8,765.1L286.4,769.7L281.8,774.3L277.2,769.7Z" fill="#8b0000" stroke="#000" stroke-width="1.3"/>
<path d="M282.9,753.3L287.5,757.9L282.9,762.5L278.3,757.9Z" fill="#8b0000" stroke="#000" stroke-width="1.3"/>
<path d="M285.2,748.2L289.8,752.8L285.2,757.4L280.6,752.8Z" fill="#8b0000" stroke="#000" stroke-width="1.3"/>
<path d="M287.1,793.1L291.7,797.7L287.1,802.3L282.5,797.7Z" fill="#8b0000" stroke="#000" stroke-width="1.3"/>
<path d="M289.9,785.0L294.5,789.6L289.9,794.2L285.3,789.6Z" fill="#8b0000" stroke="#000" stroke-width="1.3"/>
<path d="M289.0,795.0L293.6,799.6L289.0,804.2L284.4,799.6Z" fill="#8b0000" stroke="#000" stroke-width="1.3"/>
<path d="M301.3,821.0L305.9,825.6L301.3,830.2L296.7,825.6Z" fill="#8b0000" stroke="#000" stroke-width="1.3"/>
<path d="M314.0,808.9L318.6,813.5L314.0,818.1L309.4,813.5Z" fill="#8b0000" stroke="#000" stroke-width="1.3"/>
<path d="M322.2,820.1L326.8,824.7L322.2,829.3L317.6,824.7Z" fill="#8b0000" stroke="#000" stroke-width="1.3"/>
<path d="M333.0,796.0L337.6,800.6L333.0,805.2L328.4,800.6Z" fill="#8b0000" stroke="#000" stroke-width="1.3"/>
<path d="M347.8,816.1L352.4,820.7L347.8,825.3L343.2,820.7Z" fill="#8b0000" stroke="#000" stroke-width="1.3"/>
<path d="M357.3,796.6L361.9,801.2L357.3,805.8L352.7,801.2Z" fill="#8b0000" stroke="#000" stroke-width="1.3"/>
<path d="M367.2,791.8L371.8,796.4L367.2,801.0L362.6,796.4Z" fill="#8b0000" stroke="#000" stroke-width="1.3"/>
<path d="M373.4,760.5L378.0,765.1L373.4,769.7L368.8,765.1Z" fill="#8b0000" stroke="#000" stroke-width="1.3"/>
<path d="M383.5,803.6L388.1,808.2L383.5,812.8L378.9,808.2Z" fill="#8b0000" stroke="#000" stroke-width="1.3"/>
<path d="M390.5,771.7L395.1,776.3L390.5,780.9L385.9,776.3Z" fill="#8b0000" stroke="#000" stroke-width="1.3"/>
<path d="M403.7,787.8L408.3,792.4L403.7,797.0L399.1,792.4Z" fill="#8b0000" stroke="#000" stroke-width="1.3"/>
<path d="M411.8,795.4L416.4,800.0L411.8,804.6L407.2,800.0Z" fill="#8b0000" stroke="#000" stroke-width="1.3"/>
<path d="M444.1,793.4L448.7,798.0L444.1,802.6L439.5,798.0Z" fill="#8b0000" stroke="#000" stroke-width="1.3"/>
<path d="M456.4,786.0L461.0,790.6L456.4,795.2L451.8,790.6Z" fill="#8b0000" stroke="#000" stroke-width="1.3"/>
<path d="M477.3,785.1L481.9,789.7L477.3,794.3L472.7,789.7Z" fill="#8b0000" stroke="#000" stroke-width="1.3"/>
<path d="M488.7,756.1L493.3,760.7L488.7,765.3L484.1,760.7Z" fill="#8b0000" stroke="#000" stroke-width="1.3"/>
<line x1="290.6" y1="850.2" x2="264.3" y2="770" stroke="#a00000" stroke-width="1.6"/>
<polyline points="271.4,777.1 264.3,770.0 262.8,780.0" fill="none" stroke="#a00000" stroke-width="1.9000000000000001" stroke-linejoin="miter"/>
<text x="141.9" y="791.5" font-size="16.5" fill="#a00000" font-weight="bold" text-anchor="start" textLength="109.1" lengthAdjust="spacingAndGlyphs" stroke="#a00000" stroke-width="0.35" >increased AS</text>
<text x="141.9" y="810.77" font-size="16.5" fill="#a00000" font-weight="bold" text-anchor="start" textLength="115.8" lengthAdjust="spacingAndGlyphs" stroke="#a00000" stroke-width="0.35" >productivity &amp;</text>
<text x="141.9" y="830.04" font-size="16.5" fill="#a00000" font-weight="bold" text-anchor="start" textLength="113.8" lengthAdjust="spacingAndGlyphs" stroke="#a00000" stroke-width="0.35" >denitrification</text>
<text x="141.9" y="849.31" font-size="16.5" fill="#a00000" font-weight="bold" text-anchor="start" textLength="85.2" lengthAdjust="spacingAndGlyphs" stroke="#a00000" stroke-width="0.35" >in core AS</text>
<polyline points="87.8,1008.7 128.7,1038.5 166.7,1050.4 193.0,1031.2 229.4,1013.1 324.0,941.5 334.8,928.4 429.1,939.2 429.1,941.5 487.3,936.6 487.3,931.3 492.6,902.7 566.1,943.6 566.1,952.6 602.9,905.6" fill="none" stroke="#777" stroke-width="1.5" stroke-linejoin="round" stroke-linecap="round" />
<circle cx="87.8" cy="1008.7" r="3.3" fill="#777"/>
<circle cx="128.7" cy="1038.5" r="3.3" fill="#777"/>
<circle cx="166.7" cy="1050.4" r="3.3" fill="#777"/>
<circle cx="193" cy="1031.2" r="3.3" fill="#777"/>
<circle cx="229.4" cy="1013.1" r="3.3" fill="#777"/>
<circle cx="324" cy="941.5" r="3.3" fill="#777"/>
<circle cx="334.8" cy="928.4" r="3.3" fill="#777"/>
<circle cx="429.1" cy="939.2" r="3.3" fill="#777"/>
<circle cx="429.1" cy="941.5" r="3.3" fill="#777"/>
<circle cx="487.3" cy="936.6" r="3.3" fill="#777"/>
<circle cx="487.3" cy="931.3" r="3.3" fill="#777"/>
<circle cx="492.6" cy="902.7" r="3.3" fill="#777"/>
<circle cx="566.1" cy="943.6" r="3.3" fill="#777"/>
<circle cx="566.1" cy="952.6" r="3.3" fill="#777"/>
<circle cx="602.9" cy="905.6" r="3.3" fill="#777"/>
<polyline points="100.1,1016.6 143.3,1035.3 159.4,1056.0 187.7,1016.6 231.8,988.8 231.8,978.9 293.4,966.4 342.4,938.9 356.1,934.8 365.2,915.8 369.3,896.9 414.5,895.4 443.7,889.9 483.2,894.8 551.8,892.5 565.5,889.9 594.7,953.2" fill="none" stroke="#000" stroke-width="1.5" stroke-linejoin="round" stroke-linecap="round" />
<circle cx="100.1" cy="1016.6" r="3.3" fill="#000"/>
<circle cx="143.3" cy="1035.3" r="3.3" fill="#000"/>
<circle cx="159.4" cy="1056" r="3.3" fill="#000"/>
<circle cx="187.7" cy="1016.6" r="3.3" fill="#000"/>
<circle cx="231.8" cy="988.8" r="3.3" fill="#000"/>
<circle cx="231.8" cy="978.9" r="3.3" fill="#000"/>
<circle cx="293.4" cy="966.4" r="3.3" fill="#000"/>
<circle cx="342.4" cy="938.9" r="3.3" fill="#000"/>
<circle cx="356.1" cy="934.8" r="3.3" fill="#000"/>
<circle cx="365.2" cy="915.8" r="3.3" fill="#000"/>
<circle cx="369.3" cy="896.9" r="3.3" fill="#000"/>
<circle cx="414.5" cy="895.4" r="3.3" fill="#000"/>
<circle cx="443.7" cy="889.9" r="3.3" fill="#000"/>
<circle cx="483.2" cy="894.8" r="3.3" fill="#000"/>
<circle cx="551.8" cy="892.5" r="3.3" fill="#000"/>
<circle cx="565.5" cy="889.9" r="3.3" fill="#000"/>
<circle cx="594.7" cy="953.2" r="3.3" fill="#000"/>
<polyline points="112.7,1030.0 118.5,1039.3 127.3,1020.4 133.1,1046.6 137.5,1047.2 143.3,1065.0 155.6,1021.8 167.3,989.1 181.3,981.0 198.2,990.3 218.6,1047.2 236.7,996.1 254.8,959.9 270.3,972.8 287.5,1002.0 287.5,1007.8 317.6,941.5 334.8,1016.0 359.6,901.5 369.3,963.4 369.3,945.3 378.0,900.1 386.8,925.5 394.7,963.4 400.8,980.4 409.3,948.8 417.4,952.3 427.7,989.1 435.0,970.7 435.0,963.4 456.9,966.9 486.1,966.9 493.4,955.3 500.7,970.7 515.3,946.5 525.3,936.6 556.8,980.1 580.7,985.9 590.4,966.4 590.4,948.2" fill="none" stroke="#ff6a00" stroke-width="3.6" stroke-linejoin="round" stroke-linecap="round" />
<path d="M112.7,1025.2L117.5,1030.0L112.7,1034.8L107.9,1030.0Z" fill="#ff6a00" stroke="none" stroke-width="0"/>
<path d="M118.5,1034.5L123.3,1039.3L118.5,1044.1L113.7,1039.3Z" fill="#ff6a00" stroke="none" stroke-width="0"/>
<path d="M127.3,1015.6L132.1,1020.4L127.3,1025.2L122.5,1020.4Z" fill="#ff6a00" stroke="none" stroke-width="0"/>
<path d="M133.1,1041.8L137.9,1046.6L133.1,1051.4L128.3,1046.6Z" fill="#ff6a00" stroke="none" stroke-width="0"/>
<path d="M137.5,1042.4L142.3,1047.2L137.5,1052.0L132.7,1047.2Z" fill="#ff6a00" stroke="none" stroke-width="0"/>
<path d="M143.3,1060.2L148.1,1065.0L143.3,1069.8L138.5,1065.0Z" fill="#ff6a00" stroke="none" stroke-width="0"/>
<path d="M155.6,1017.0L160.4,1021.8L155.6,1026.6L150.8,1021.8Z" fill="#ff6a00" stroke="none" stroke-width="0"/>
<path d="M167.3,984.3L172.1,989.1L167.3,993.9L162.5,989.1Z" fill="#ff6a00" stroke="none" stroke-width="0"/>
<path d="M181.3,976.2L186.1,981.0L181.3,985.8L176.5,981.0Z" fill="#ff6a00" stroke="none" stroke-width="0"/>
<path d="M198.2,985.5L203.0,990.3L198.2,995.1L193.4,990.3Z" fill="#ff6a00" stroke="none" stroke-width="0"/>
<path d="M218.6,1042.4L223.4,1047.2L218.6,1052.0L213.8,1047.2Z" fill="#ff6a00" stroke="none" stroke-width="0"/>
<path d="M236.7,991.3L241.5,996.1L236.7,1000.9L231.9,996.1Z" fill="#ff6a00" stroke="none" stroke-width="0"/>
<path d="M254.8,955.1L259.6,959.9L254.8,964.7L250.0,959.9Z" fill="#ff6a00" stroke="none" stroke-width="0"/>
<path d="M270.3,968.0L275.1,972.8L270.3,977.6L265.5,972.8Z" fill="#ff6a00" stroke="none" stroke-width="0"/>
<path d="M287.5,997.2L292.3,1002.0L287.5,1006.8L282.7,1002.0Z" fill="#ff6a00" stroke="none" stroke-width="0"/>
<path d="M287.5,1003.0L292.3,1007.8L287.5,1012.6L282.7,1007.8Z" fill="#ff6a00" stroke="none" stroke-width="0"/>
<path d="M317.6,936.7L322.4,941.5L317.6,946.3L312.8,941.5Z" fill="#ff6a00" stroke="none" stroke-width="0"/>
<path d="M334.8,1011.2L339.6,1016.0L334.8,1020.8L330.0,1016.0Z" fill="#ff6a00" stroke="none" stroke-width="0"/>
<path d="M359.6,896.7L364.4,901.5L359.6,906.3L354.8,901.5Z" fill="#ff6a00" stroke="none" stroke-width="0"/>
<path d="M369.3,958.6L374.1,963.4L369.3,968.2L364.5,963.4Z" fill="#ff6a00" stroke="none" stroke-width="0"/>
<path d="M369.3,940.5L374.1,945.3L369.3,950.1L364.5,945.3Z" fill="#ff6a00" stroke="none" stroke-width="0"/>
<path d="M378.0,895.3L382.8,900.1L378.0,904.9L373.2,900.1Z" fill="#ff6a00" stroke="none" stroke-width="0"/>
<path d="M386.8,920.7L391.6,925.5L386.8,930.3L382.0,925.5Z" fill="#ff6a00" stroke="none" stroke-width="0"/>
<path d="M394.7,958.6L399.5,963.4L394.7,968.2L389.9,963.4Z" fill="#ff6a00" stroke="none" stroke-width="0"/>
<path d="M400.8,975.6L405.6,980.4L400.8,985.2L396.0,980.4Z" fill="#ff6a00" stroke="none" stroke-width="0"/>
<path d="M409.3,944.0L414.1,948.8L409.3,953.6L404.5,948.8Z" fill="#ff6a00" stroke="none" stroke-width="0"/>
<path d="M417.4,947.5L422.2,952.3L417.4,957.1L412.6,952.3Z" fill="#ff6a00" stroke="none" stroke-width="0"/>
<path d="M427.7,984.3L432.5,989.1L427.7,993.9L422.9,989.1Z" fill="#ff6a00" stroke="none" stroke-width="0"/>
<path d="M435.0,965.9L439.8,970.7L435.0,975.5L430.2,970.7Z" fill="#ff6a00" stroke="none" stroke-width="0"/>
<path d="M435.0,958.6L439.8,963.4L435.0,968.2L430.2,963.4Z" fill="#ff6a00" stroke="none" stroke-width="0"/>
<path d="M456.9,962.1L461.7,966.9L456.9,971.7L452.1,966.9Z" fill="#ff6a00" stroke="none" stroke-width="0"/>
<path d="M486.1,962.1L490.9,966.9L486.1,971.7L481.3,966.9Z" fill="#ff6a00" stroke="none" stroke-width="0"/>
<path d="M493.4,950.5L498.2,955.3L493.4,960.1L488.6,955.3Z" fill="#ff6a00" stroke="none" stroke-width="0"/>
<path d="M500.7,965.9L505.5,970.7L500.7,975.5L495.9,970.7Z" fill="#ff6a00" stroke="none" stroke-width="0"/>
<path d="M515.3,941.7L520.1,946.5L515.3,951.3L510.5,946.5Z" fill="#ff6a00" stroke="none" stroke-width="0"/>
<path d="M525.3,931.8L530.1,936.6L525.3,941.4L520.5,936.6Z" fill="#ff6a00" stroke="none" stroke-width="0"/>
<path d="M556.8,975.3L561.6,980.1L556.8,984.9L552.0,980.1Z" fill="#ff6a00" stroke="none" stroke-width="0"/>
<path d="M580.7,981.1L585.5,985.9L580.7,990.7L575.9,985.9Z" fill="#ff6a00" stroke="none" stroke-width="0"/>
<path d="M590.4,961.6L595.2,966.4L590.4,971.2L585.6,966.4Z" fill="#ff6a00" stroke="none" stroke-width="0"/>
<path d="M590.4,943.4L595.2,948.2L590.4,953.0L585.6,948.2Z" fill="#ff6a00" stroke="none" stroke-width="0"/>
<line x1="334.1" y1="917.3" x2="225.6" y2="956.8" stroke="#707070" stroke-width="1.5"/>
<polyline points="233.5,949.2 225.6,956.8 236.5,957.6" fill="none" stroke="#707070" stroke-width="1.8" stroke-linejoin="miter"/>
<text x="141.4" y="910.9" font-size="16.5" fill="#6e6e6e" font-weight="bold" text-anchor="start" textLength="201.7" lengthAdjust="spacingAndGlyphs" stroke="#6e6e6e" stroke-width="0.35" >Indian Ocean circulation</text>
<text x="141.4" y="930.1" font-size="16.5" fill="#6e6e6e" font-weight="bold" text-anchor="start" textLength="120.4" lengthAdjust="spacingAndGlyphs" stroke="#6e6e6e" stroke-width="0.35" >reorganisation</text>
<line x1="397.6" y1="997.6" x2="292.8" y2="1045.2" stroke="#f4693a" stroke-width="1.6"/>
<polyline points="300.0,1037.0 292.8,1045.2 303.8,1045.2" fill="none" stroke="#f4693a" stroke-width="1.9000000000000001" stroke-linejoin="miter"/>
<text x="0" y="0" font-size="18" fill="#f4693a" font-weight="bold" transform="translate(281,1078) rotate(-23.54)" textLength="203" lengthAdjust="spacingAndGlyphs">distal AS deoxygenation</text>
<text x="92.6" y="110.4" font-size="18" fill="#000" font-weight="bold" text-anchor="start" textLength="23" lengthAdjust="spacingAndGlyphs" stroke="#000" stroke-width="0.35" >(a)</text>
<text x="92.6" y="325.4" font-size="18" fill="#000" font-weight="bold" text-anchor="start" textLength="23" lengthAdjust="spacingAndGlyphs" stroke="#000" stroke-width="0.35" >(b)</text>
<text x="92.6" y="535.1" font-size="18" fill="#000" font-weight="bold" text-anchor="start" textLength="23" lengthAdjust="spacingAndGlyphs" stroke="#000" stroke-width="0.35" >(c)</text>
<text x="92.6" y="614.1999999999999" font-size="18" fill="#000" font-weight="bold" text-anchor="start" textLength="23" lengthAdjust="spacingAndGlyphs" stroke="#000" stroke-width="0.35" >(d)</text>
<text x="92.6" y="917.1999999999999" font-size="18" fill="#000" font-weight="bold" text-anchor="start" textLength="23" lengthAdjust="spacingAndGlyphs" stroke="#000" stroke-width="0.35" >(e)</text>
<g stroke="#000" stroke-width="1.6" fill="none" stroke-linecap="square">
<line x1="82.6" y1="21.5" x2="608.3" y2="21.5"/>
<line x1="82.6" y1="1087.3" x2="608.3" y2="1087.3"/>
<line x1="82.6" y1="21.5" x2="82.6" y2="1087.3"/>
<line x1="608.3" y1="21.5" x2="608.3" y2="1087.3"/>
</g>
<g stroke="#000" stroke-width="1.5"><line x1="82.6" y1="21.5" x2="82.6" y2="29.0"/><line x1="82.6" y1="1087.3" x2="82.6" y2="1094.8"/><line x1="135.2" y1="21.5" x2="135.2" y2="26.0"/><line x1="135.2" y1="1087.3" x2="135.2" y2="1091.8"/><line x1="187.7" y1="21.5" x2="187.7" y2="29.0"/><line x1="187.7" y1="1087.3" x2="187.7" y2="1094.8"/><line x1="240.3" y1="21.5" x2="240.3" y2="26.0"/><line x1="240.3" y1="1087.3" x2="240.3" y2="1091.8"/><line x1="292.9" y1="21.5" x2="292.9" y2="29.0"/><line x1="292.9" y1="1087.3" x2="292.9" y2="1094.8"/><line x1="345.4" y1="21.5" x2="345.4" y2="26.0"/><line x1="345.4" y1="1087.3" x2="345.4" y2="1091.8"/><line x1="398.0" y1="21.5" x2="398.0" y2="29.0"/><line x1="398.0" y1="1087.3" x2="398.0" y2="1094.8"/><line x1="450.6" y1="21.5" x2="450.6" y2="26.0"/><line x1="450.6" y1="1087.3" x2="450.6" y2="1091.8"/><line x1="503.2" y1="21.5" x2="503.2" y2="29.0"/><line x1="503.2" y1="1087.3" x2="503.2" y2="1094.8"/><line x1="555.7" y1="21.5" x2="555.7" y2="26.0"/><line x1="555.7" y1="1087.3" x2="555.7" y2="1091.8"/><line x1="608.3" y1="21.5" x2="608.3" y2="29.0"/><line x1="608.3" y1="1087.3" x2="608.3" y2="1094.8"/><line x1="82.6" y1="421.9" x2="75.1" y2="421.9"/><line x1="82.6" y1="399.2" x2="78.1" y2="399.2"/><line x1="82.6" y1="376.6" x2="75.1" y2="376.6"/><line x1="82.6" y1="353.9" x2="78.1" y2="353.9"/><line x1="82.6" y1="331.2" x2="75.1" y2="331.2"/><line x1="82.6" y1="308.6" x2="78.1" y2="308.6"/><line x1="82.6" y1="285.9" x2="75.1" y2="285.9"/><line x1="82.6" y1="263.3" x2="78.1" y2="263.3"/><line x1="82.6" y1="240.6" x2="75.1" y2="240.6"/><line x1="82.6" y1="836.5" x2="90.9" y2="836.5"/><line x1="82.6" y1="816.7" x2="87.1" y2="816.7"/><line x1="82.6" y1="805.2" x2="87.1" y2="805.2"/><line x1="82.6" y1="796.9" x2="87.1" y2="796.9"/><line x1="82.6" y1="790.6" x2="87.1" y2="790.6"/><line x1="82.6" y1="785.4" x2="87.1" y2="785.4"/><line x1="82.6" y1="781.0" x2="87.1" y2="781.0"/><line x1="82.6" y1="777.2" x2="87.1" y2="777.2"/><line x1="82.6" y1="773.8" x2="87.1" y2="773.8"/><line x1="82.6" y1="770.8" x2="90.9" y2="770.8"/><line x1="82.6" y1="751.0" x2="87.1" y2="751.0"/><line x1="82.6" y1="739.5" x2="87.1" y2="739.5"/><line x1="82.6" y1="731.2" x2="87.1" y2="731.2"/><line x1="82.6" y1="724.9" x2="87.1" y2="724.9"/><line x1="82.6" y1="719.7" x2="87.1" y2="719.7"/><line x1="82.6" y1="715.3" x2="87.1" y2="715.3"/><line x1="82.6" y1="711.5" x2="87.1" y2="711.5"/><line x1="82.6" y1="708.1" x2="87.1" y2="708.1"/><line x1="82.6" y1="705.1" x2="90.9" y2="705.1"/><line x1="82.6" y1="685.3" x2="87.1" y2="685.3"/><line x1="82.6" y1="673.8" x2="87.1" y2="673.8"/><line x1="82.6" y1="665.5" x2="87.1" y2="665.5"/><line x1="82.6" y1="659.2" x2="87.1" y2="659.2"/><line x1="82.6" y1="654.0" x2="87.1" y2="654.0"/><line x1="82.6" y1="649.6" x2="87.1" y2="649.6"/><line x1="82.6" y1="645.8" x2="87.1" y2="645.8"/><line x1="82.6" y1="642.4" x2="87.1" y2="642.4"/><line x1="82.6" y1="639.4" x2="90.9" y2="639.4"/><line x1="82.6" y1="1088.0" x2="75.1" y2="1088.0"/><line x1="82.6" y1="1064.6" x2="78.1" y2="1064.6"/><line x1="82.6" y1="1041.2" x2="75.1" y2="1041.2"/><line x1="82.6" y1="1017.7" x2="78.1" y2="1017.7"/><line x1="82.6" y1="994.3" x2="75.1" y2="994.3"/><line x1="82.6" y1="970.9" x2="78.1" y2="970.9"/><line x1="82.6" y1="947.5" x2="75.1" y2="947.5"/><line x1="82.6" y1="924.1" x2="78.1" y2="924.1"/><line x1="82.6" y1="900.6" x2="75.1" y2="900.6"/><line x1="608.3" y1="80.1" x2="615.8" y2="80.1"/><line x1="608.3" y1="118.7" x2="615.8" y2="118.7"/><line x1="608.3" y1="157.3" x2="615.8" y2="157.3"/><line x1="608.3" y1="195.9" x2="615.8" y2="195.9"/><line x1="608.3" y1="234.5" x2="615.8" y2="234.5"/><line x1="608.3" y1="405.0" x2="615.8" y2="405.0"/><line x1="608.3" y1="422.4" x2="612.8" y2="422.4"/><line x1="608.3" y1="439.9" x2="615.8" y2="439.9"/><line x1="608.3" y1="457.3" x2="612.8" y2="457.3"/><line x1="608.3" y1="474.8" x2="615.8" y2="474.8"/><line x1="608.3" y1="492.2" x2="612.8" y2="492.2"/><line x1="608.3" y1="509.7" x2="615.8" y2="509.7"/><line x1="608.3" y1="527.1" x2="612.8" y2="527.1"/><line x1="608.3" y1="544.6" x2="615.8" y2="544.6"/><line x1="608.3" y1="545.0" x2="600.8" y2="545.0"/><line x1="608.3" y1="569.0" x2="603.8" y2="569.0"/><line x1="608.3" y1="593.0" x2="600.8" y2="593.0"/><line x1="608.3" y1="617.0" x2="603.8" y2="617.0"/><line x1="608.3" y1="641.0" x2="600.8" y2="641.0"/><line x1="608.3" y1="592.8" x2="615.8" y2="592.8"/><line x1="608.3" y1="632.8" x2="615.8" y2="632.8"/><line x1="608.3" y1="672.8" x2="615.8" y2="672.8"/><line x1="608.3" y1="712.8" x2="615.8" y2="712.8"/><line x1="608.3" y1="838.2" x2="600.8" y2="838.2"/><line x1="608.3" y1="817.4" x2="603.8" y2="817.4"/><line x1="608.3" y1="796.7" x2="600.8" y2="796.7"/><line x1="608.3" y1="775.9" x2="603.8" y2="775.9"/><line x1="608.3" y1="755.1" x2="600.8" y2="755.1"/><line x1="608.3" y1="734.4" x2="603.8" y2="734.4"/><line x1="608.3" y1="713.6" x2="600.8" y2="713.6"/><line x1="608.3" y1="880.1" x2="615.8" y2="880.1"/><line x1="608.3" y1="906.1" x2="612.8" y2="906.1"/><line x1="608.3" y1="932.1" x2="615.8" y2="932.1"/><line x1="608.3" y1="958.1" x2="612.8" y2="958.1"/><line x1="608.3" y1="984.1" x2="615.8" y2="984.1"/><line x1="608.3" y1="1010.0" x2="612.8" y2="1010.0"/><line x1="608.3" y1="1036.0" x2="615.8" y2="1036.0"/><line x1="608.3" y1="1062.0" x2="612.8" y2="1062.0"/><line x1="608.3" y1="1088.0" x2="615.8" y2="1088.0"/></g>
<text x="82.6" y="12.6" font-size="16.8" fill="#000" font-weight="normal" text-anchor="middle" >8</text>
<text x="82.6" y="1116.0" font-size="16.8" fill="#000" font-weight="normal" text-anchor="middle" >8</text>
<text x="187.73999999999998" y="12.6" font-size="16.8" fill="#000" font-weight="normal" text-anchor="middle" >10</text>
<text x="187.73999999999998" y="1116.0" font-size="16.8" fill="#000" font-weight="normal" text-anchor="middle" >10</text>
<text x="292.88" y="12.6" font-size="16.8" fill="#000" font-weight="normal" text-anchor="middle" >12</text>
<text x="292.88" y="1116.0" font-size="16.8" fill="#000" font-weight="normal" text-anchor="middle" >12</text>
<text x="398.02" y="12.6" font-size="16.8" fill="#000" font-weight="normal" text-anchor="middle" >14</text>
<text x="398.02" y="1116.0" font-size="16.8" fill="#000" font-weight="normal" text-anchor="middle" >14</text>
<text x="503.15999999999997" y="12.6" font-size="16.8" fill="#000" font-weight="normal" text-anchor="middle" >16</text>
<text x="503.15999999999997" y="1116.0" font-size="16.8" fill="#000" font-weight="normal" text-anchor="middle" >16</text>
<text x="608.3" y="12.6" font-size="16.8" fill="#000" font-weight="normal" text-anchor="middle" >18</text>
<text x="608.3" y="1116.0" font-size="16.8" fill="#000" font-weight="normal" text-anchor="middle" >18</text>
<text x="70.8" y="427.88" font-size="16.8" fill="#000" font-weight="normal" text-anchor="end" >26</text>
<text x="70.8" y="382.56" font-size="16.8" fill="#000" font-weight="normal" text-anchor="end" >28</text>
<text x="70.8" y="337.24" font-size="16.8" fill="#000" font-weight="normal" text-anchor="end" >30</text>
<text x="70.8" y="291.92" font-size="16.8" fill="#000" font-weight="normal" text-anchor="end" >32</text>
<text x="70.8" y="246.6" font-size="16.8" fill="#000" font-weight="normal" text-anchor="end" >34</text>
<text x="96.3" y="645.3" font-size="16.5" fill="#000" font-weight="normal" text-anchor="start" textLength="56.5" lengthAdjust="spacingAndGlyphs" >100000</text>
<text x="96.3" y="711.0" font-size="16.5" fill="#000" font-weight="normal" text-anchor="start" textLength="47.1" lengthAdjust="spacingAndGlyphs" >10000</text>
<text x="96.3" y="776.6999999999999" font-size="16.5" fill="#000" font-weight="normal" text-anchor="start" textLength="37.7" lengthAdjust="spacingAndGlyphs" >1000</text>
<text x="96.3" y="842.4" font-size="16.5" fill="#000" font-weight="normal" text-anchor="start" textLength="28.3" lengthAdjust="spacingAndGlyphs" >100</text>
<text x="71.2" y="1094.0" font-size="16.8" fill="#000" font-weight="normal" text-anchor="end" >0.4</text>
<text x="71.2" y="1047.16" font-size="16.8" fill="#000" font-weight="normal" text-anchor="end" >0.8</text>
<text x="71.2" y="1000.32" font-size="16.8" fill="#000" font-weight="normal" text-anchor="end" >1.2</text>
<text x="71.2" y="953.48" font-size="16.8" fill="#000" font-weight="normal" text-anchor="end" >1.6</text>
<text x="71.2" y="906.64" font-size="16.8" fill="#000" font-weight="normal" text-anchor="end" >2</text>
<text x="621.5" y="86.1" font-size="16.8" fill="#000" font-weight="normal" text-anchor="start" >1</text>
<text x="621.5" y="124.69999999999999" font-size="16.8" fill="#000" font-weight="normal" text-anchor="start" >1.5</text>
<text x="621.5" y="163.3" font-size="16.8" fill="#000" font-weight="normal" text-anchor="start" >2</text>
<text x="621.5" y="201.9" font-size="16.8" fill="#000" font-weight="normal" text-anchor="start" >2.5</text>
<text x="621.5" y="240.5" font-size="16.8" fill="#000" font-weight="normal" text-anchor="start" >3</text>
<text x="621.5" y="411.0" font-size="16.8" fill="#000" font-weight="normal" text-anchor="start" >-2</text>
<text x="621.5" y="445.9" font-size="16.8" fill="#000" font-weight="normal" text-anchor="start" >0</text>
<text x="621.5" y="480.79999999999995" font-size="16.8" fill="#000" font-weight="normal" text-anchor="start" >2</text>
<text x="621.5" y="515.7" font-size="16.8" fill="#000" font-weight="normal" text-anchor="start" >4</text>
<text x="621.5" y="550.5999999999999" font-size="16.8" fill="#000" font-weight="normal" text-anchor="start" >6</text>
<text x="595" y="551.0" font-size="16.8" fill="#000" font-weight="normal" text-anchor="end" >25</text>
<text x="595" y="599.0" font-size="16.8" fill="#000" font-weight="normal" text-anchor="end" >30</text>
<text x="595" y="647.0" font-size="16.8" fill="#000" font-weight="normal" text-anchor="end" >35</text>
<text x="621.5" y="598.8" font-size="16.8" fill="#000" font-weight="normal" text-anchor="start" >-11</text>
<text x="621.5" y="638.8" font-size="16.8" fill="#000" font-weight="normal" text-anchor="start" >-10</text>
<text x="621.5" y="678.8" font-size="16.8" fill="#000" font-weight="normal" text-anchor="start" >-9</text>
<text x="621.5" y="718.8" font-size="16.8" fill="#000" font-weight="normal" text-anchor="start" >-8</text>
<text x="595" y="844.2" font-size="16.8" fill="#000" font-weight="normal" text-anchor="end" >4</text>
<text x="595" y="802.6600000000001" font-size="16.8" fill="#000" font-weight="normal" text-anchor="end" >6</text>
<text x="595" y="761.12" font-size="16.8" fill="#000" font-weight="normal" text-anchor="end" >8</text>
<text x="595" y="719.58" font-size="16.8" fill="#000" font-weight="normal" text-anchor="end" >10</text>
<text x="621.5" y="886.12" font-size="16.8" fill="#000" font-weight="normal" text-anchor="start" >-8</text>
<text x="621.5" y="938.09" font-size="16.8" fill="#000" font-weight="normal" text-anchor="start" >-7</text>
<text x="621.5" y="990.06" font-size="16.8" fill="#000" font-weight="normal" text-anchor="start" >-6</text>
<text x="621.5" y="1042.03" font-size="16.8" fill="#000" font-weight="normal" text-anchor="start" >-5</text>
<text x="621.5" y="1094.0" font-size="16.8" fill="#000" font-weight="normal" text-anchor="start" >-4</text>
<text x="345.2" y="1135.5" font-size="19" fill="#000" font-weight="normal" text-anchor="middle" textLength="78" lengthAdjust="spacingAndGlyphs" >Age (Ma)</text>
<text transform="translate(40.1,368.8) rotate(-90)" x="0" y="0" font-size="20.5" fill="#000" font-weight="normal" textLength="75.5" lengthAdjust="spacingAndGlyphs">SST (°C)</text>
<text transform="translate(49.8,840.6) rotate(-90)" x="0" y="0" font-size="18" fill="#a00000" font-weight="normal" textLength="208.5" lengthAdjust="spacingAndGlyphs">ΣGDGTs (ng/g sediment)</text>
<text transform="translate(69.8,816.4) rotate(-90)" x="0" y="0" font-size="16" fill="#a00000" font-weight="normal" textLength="158" lengthAdjust="spacingAndGlyphs"><tspan font-weight="bold">ODP 730</tspan> (this study)</text>
<text transform="translate(14.8,1063.8) rotate(-90)" x="0" y="0" font-size="17.5" fill="#fb6a30" font-weight="normal" textLength="140.6" lengthAdjust="spacingAndGlyphs">I/Ca (µmol mol<tspan font-size="10" dy="-6">-1</tspan><tspan dy="6">)</tspan></text>
<text transform="translate(35.2,1072) rotate(-90)" x="0" y="0" font-size="16.5" fill="#fb6a30" font-weight="normal" textLength="158" lengthAdjust="spacingAndGlyphs"><tspan font-weight="bold">ODP 714</tspan> (this study)</text>
<text transform="translate(669.8,118.7) rotate(90)" x="0" y="0" font-size="21" fill="#000" font-weight="normal" textLength="76.2" lengthAdjust="spacingAndGlyphs">δ<tspan font-size="11" dy="-6">18</tspan><tspan dy="6">O (‰)</tspan></text>
<text transform="translate(655.6,89.8) rotate(90)" x="0" y="0" font-size="12.8" fill="#000" font-weight="normal" textLength="132.2" lengthAdjust="spacingAndGlyphs">Westerhold et al., 2020</text>
<text transform="translate(669.3,398.9) rotate(90)" x="0" y="0" font-size="19.5" fill="#000" font-weight="normal" textLength="150.1" lengthAdjust="spacingAndGlyphs">SST gradient (°C)</text>
<text transform="translate(656.3,411.2) rotate(90)" x="0" y="0" font-size="12.5" fill="#000" font-weight="normal" textLength="125.5" lengthAdjust="spacingAndGlyphs">(core-distal Arabian Sea)</text>
<text transform="translate(668.1,609.4) rotate(90)" x="0" y="0" font-size="19.5" fill="#666" font-weight="normal" textLength="86.4" lengthAdjust="spacingAndGlyphs">εNd <tspan font-weight="bold">Malta</tspan></text>
<text transform="translate(654.6,604.5) rotate(90)" x="0" y="0" font-size="13" fill="#888" font-weight="normal" textLength="96.8" lengthAdjust="spacingAndGlyphs">Bialik et al., 2019</text>
<text transform="translate(666.6,903.2) rotate(90)" x="0" y="0" font-size="19.5" fill="#666" font-weight="normal" textLength="160.5" lengthAdjust="spacingAndGlyphs">εNd <tspan font-weight="bold">ODP 707/ </tspan><tspan font-weight="bold" fill="#000">757</tspan></text>
<text transform="translate(653.2,927.7) rotate(90)" x="0" y="0" font-size="13" fill="#888" font-weight="normal" textLength="112.3" lengthAdjust="spacingAndGlyphs">Gourlan et al., 2008</text>
<text transform="translate(548.3,635.8) rotate(-90)" x="0" y="0" font-size="20" fill="#f75c5c" font-weight="normal" textLength="86.4" lengthAdjust="spacingAndGlyphs">%GDGT<tspan font-size="13" dy="4">RS</tspan></text>
<text transform="translate(566.3,664) rotate(-90)" x="0" y="0" font-size="15" fill="#f75c5c" font-weight="normal" textLength="141" lengthAdjust="spacingAndGlyphs"><tspan font-weight="bold">ODP 730</tspan> (this study)</text>
<text transform="translate(549.2,828.5) rotate(-90)" x="0" y="0" font-size="19.5" fill="#000" font-weight="normal" textLength="105" lengthAdjust="spacingAndGlyphs">FB-δ<tspan font-size="12" dy="-7">15</tspan><tspan dy="7">N (‰)</tspan></text>
<text transform="translate(568.3,847.9) rotate(-90)" x="0" y="0" font-size="15.5" fill="#000" font-weight="normal" textLength="143" lengthAdjust="spacingAndGlyphs"><tspan font-weight="bold">ODP 730</tspan> (this study)</text>
</svg></body></html>
